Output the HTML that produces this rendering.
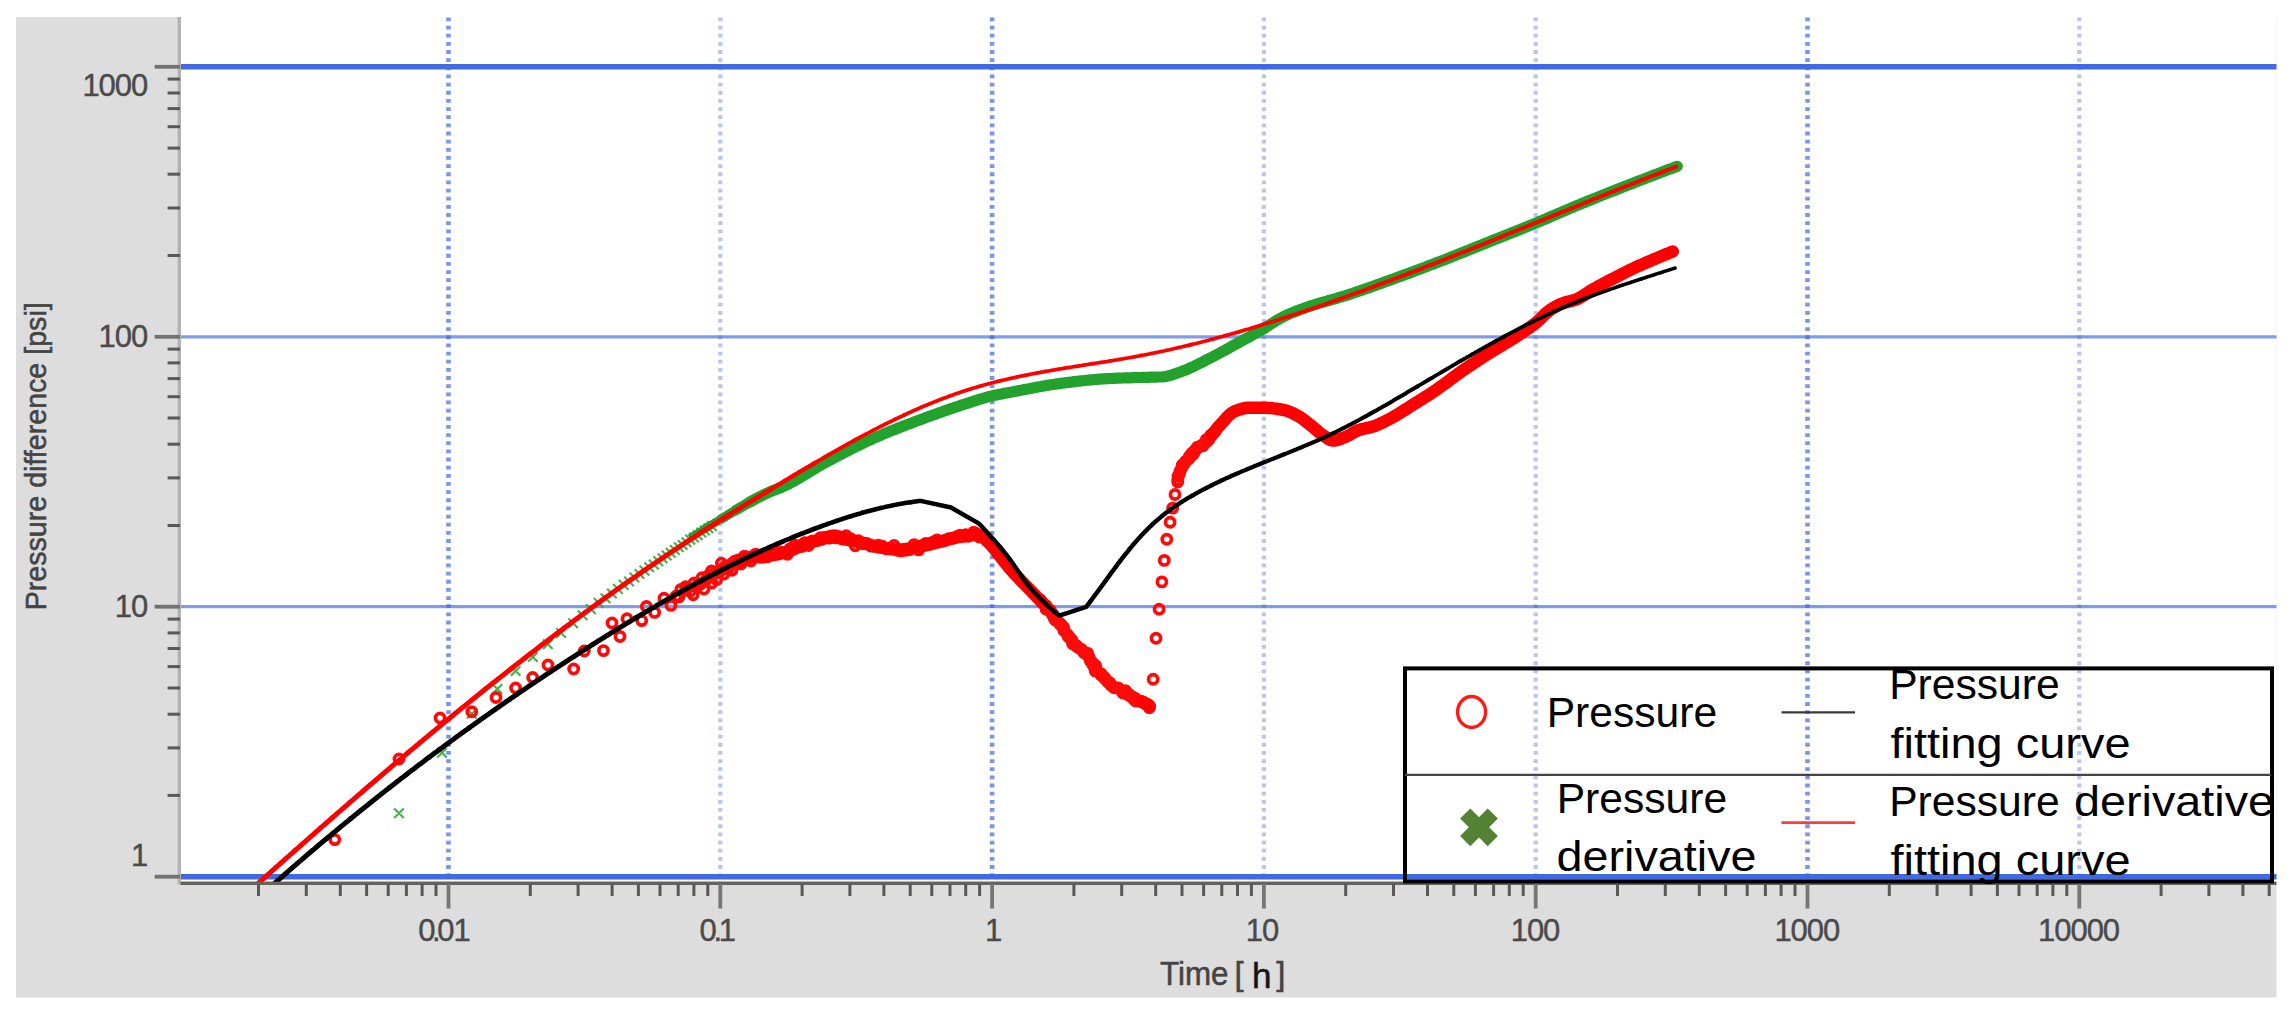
<!DOCTYPE html>
<html><head><meta charset="utf-8"><title>Log-log plot</title>
<style>html,body{margin:0;padding:0;background:#fff;width:2294px;height:1024px;overflow:hidden}</style>
</head><body>
<svg width="2294" height="1024" viewBox="0 0 2294 1024" style="position:absolute;left:0;top:0">
<rect x="0" y="0" width="2294" height="1024" fill="#fff"/>
<g>
<rect x="16" y="17" width="2260.5" height="980.5" fill="#dddddd"/>
<rect x="181" y="17" width="2095.5" height="864.5" fill="#fff"/>
<line x1="448.5" y1="17.5" x2="448.5" y2="875.5" stroke="#4169e1" stroke-width="4.6" stroke-dasharray="3.8 4.35" opacity="0.7"/>
<line x1="720.3" y1="17.5" x2="720.3" y2="875.5" stroke="#4169e1" stroke-width="4.2" stroke-dasharray="3.8 4.35" opacity="0.38"/>
<line x1="992.1" y1="17.5" x2="992.1" y2="875.5" stroke="#4169e1" stroke-width="4.6" stroke-dasharray="3.8 4.35" opacity="0.7"/>
<line x1="1263.9" y1="17.5" x2="1263.9" y2="875.5" stroke="#4169e1" stroke-width="4.2" stroke-dasharray="3.8 4.35" opacity="0.38"/>
<line x1="1535.7" y1="17.5" x2="1535.7" y2="875.5" stroke="#4169e1" stroke-width="4.2" stroke-dasharray="3.8 4.35" opacity="0.38"/>
<line x1="1807.5" y1="17.5" x2="1807.5" y2="875.5" stroke="#4169e1" stroke-width="4.6" stroke-dasharray="3.8 4.35" opacity="0.7"/>
<line x1="2079.3" y1="17.5" x2="2079.3" y2="875.5" stroke="#4169e1" stroke-width="4.2" stroke-dasharray="3.8 4.35" opacity="0.38"/>
<line x1="181" y1="66.8" x2="2276.5" y2="66.8" stroke="#4169e1" stroke-width="5.6" opacity="1"/>
<line x1="181" y1="336.8" x2="2276.5" y2="336.8" stroke="#4169e1" stroke-width="3.3" opacity="0.66"/>
<line x1="181" y1="606.7" x2="2276.5" y2="606.7" stroke="#4169e1" stroke-width="3.3" opacity="0.66"/>
<line x1="181" y1="876.7" x2="2276.5" y2="876.7" stroke="#4169e1" stroke-width="5.6" opacity="1"/>
<clipPath id="pc"><rect x="181" y="17" width="2095.5" height="866.0"/></clipPath>
<g clip-path="url(#pc)">
<path d="M394.2,808.5L403.8,818.1M394.2,818.1L403.8,808.5 M437.2,748.0L446.8,757.6M437.2,757.6L446.8,748.0 M467.0,709.0L476.6,718.6M467.0,718.6L476.6,709.0 M492.6,684.2L502.2,693.8M492.6,693.8L502.2,684.2 M510.8,666.2L520.4,675.8M510.8,675.8L520.4,666.2 M528.0,652.2L537.6,661.8M528.0,661.8L537.6,652.2 M543.0,639.5L552.6,649.1M543.0,649.1L552.6,639.5 M556.3,628.2L565.9,637.8M556.3,637.8L565.9,628.2 M568.3,618.4L577.9,628.0M568.3,628.0L577.9,618.4 M577.8,610.5L587.4,620.1M577.8,620.1L587.4,610.5 M586.1,604.3L595.7,613.9M586.1,613.9L595.7,604.3 M593.8,598.1L603.4,607.7M593.8,607.7L603.4,598.1 M600.7,593.4L610.3,603.0M600.7,603.0L610.3,593.4 M607.1,588.7L616.7,598.3M607.1,598.3L616.7,588.7 M613.1,584.1L622.7,593.7M613.1,593.7L622.7,584.1 M618.8,580.1L628.4,589.7M618.8,589.7L628.4,580.1 M624.3,576.7L633.9,586.3M624.3,586.3L633.9,576.7 M629.6,572.7L639.2,582.3M629.6,582.3L639.2,572.7 M634.7,569.2L644.3,578.8M634.7,578.8L644.3,569.2 M639.7,565.8L649.3,575.4M639.7,575.4L649.3,565.8 M644.4,562.5L654.0,572.1M644.4,572.1L654.0,562.5 M649.0,559.7L658.6,569.3M649.0,569.3L658.6,559.7 M653.4,556.3L663.0,565.9M653.4,565.9L663.0,556.3 M657.7,553.5L667.3,563.1M657.7,563.1L667.3,553.5 M661.9,550.7L671.5,560.3M661.9,560.3L671.5,550.7 M665.9,547.9L675.5,557.5M665.9,557.5L675.5,547.9 M670.0,545.2L679.6,554.8M670.0,554.8L679.6,545.2 M674.0,542.4L683.6,552.0M674.0,552.0L683.6,542.4 M677.9,540.2L687.5,549.8M677.9,549.8L687.5,540.2 M681.7,537.5L691.3,547.1M681.7,547.1L691.3,537.5 M685.5,534.8L695.1,544.4M685.5,544.4L695.1,534.8 M689.2,532.6L698.8,542.2M689.2,542.2L698.8,532.6 M692.9,530.4L702.5,540.0M692.9,540.0L702.5,530.4 M696.5,527.7L706.1,537.3M696.5,537.3L706.1,527.7 M700.1,525.6L709.7,535.2M700.1,535.2L709.7,525.6 M703.6,523.4L713.2,533.0M703.6,533.0L713.2,523.4 M707.1,521.3L716.7,530.9M707.1,530.9L716.7,521.3" stroke="#2fa83a" stroke-width="2.1" fill="none" opacity="0.9"/>
<path d="M689.7,537.9 L691.4,536.9 L693.1,535.8 L694.8,534.7 L696.5,533.7 L698.2,532.6 L699.9,531.6 L701.6,530.5 L703.3,529.5 L705.0,528.5" stroke="#22a12c" stroke-width="7.5" fill="none" stroke-linejoin="round" stroke-linecap="butt"/>
<path d="M704.1,529.0 L705.9,528.0 L707.6,526.9 L709.3,525.9 L711.0,524.9 L712.8,523.9 L714.5,522.9 L716.2,521.9 L717.9,520.9 L719.7,519.9" stroke="#22a12c" stroke-width="8.5" fill="none" stroke-linejoin="round" stroke-linecap="butt"/>
<path d="M719.7,519.9 L721.4,518.8 L723.1,517.8 L724.8,516.8 L726.6,515.7 L728.3,514.7 L730.0,513.7 L731.7,512.6 L733.5,511.6 L735.2,510.6" stroke="#22a12c" stroke-width="9.5" fill="none" stroke-linejoin="round" stroke-linecap="butt"/>
<path d="M734.3,511.1 L736.0,510.1 L737.8,509.0 L739.5,508.0 L741.2,507.0 L743.0,506.0 L744.7,505.0 L746.4,504.0 L748.2,503.0 L749.9,502.0" stroke="#22a12c" stroke-width="10.4" fill="none" stroke-linejoin="round" stroke-linecap="butt"/>
<path d="M749.1,502.5 L750.8,501.5 L752.6,500.5 L754.3,499.6 L756.1,498.6 L757.8,497.7 L759.6,496.8 L761.4,495.9 L763.2,495.0 L765.0,494.2 L766.8,493.3 L768.6,492.5 L770.4,491.7 L772.2,490.9 L774.1,490.1 L775.9,489.5 L777.8,488.8 L779.7,488.1 L781.5,487.3 L783.3,486.5 L785.1,485.7 L786.9,484.8 L788.7,483.9 L790.5,483.0 L792.2,482.0 L794.0,481.1 L795.7,480.1 L797.5,479.1 L799.2,478.1 L800.9,477.1 L802.6,476.0 L804.4,475.0 L806.1,474.0 L807.8,472.9 L809.5,471.9 L811.2,470.8 L813.0,469.8 L814.7,468.8 L816.4,467.7 L818.1,466.7 L819.9,465.7 L821.6,464.7 L823.4,463.7 L825.1,462.8 L826.9,461.8 L828.6,460.9 L830.4,459.9 L832.2,459.0 L833.9,458.1 L835.7,457.1 L837.5,456.2 L839.3,455.3 L841.0,454.3 L842.8,453.4 L844.6,452.5 L846.4,451.6 L848.1,450.7 L849.9,449.7 L851.7,448.8 L853.5,447.9 L855.3,447.0 L857.1,446.1 L858.9,445.3 L860.7,444.4 L862.5,443.5 L864.3,442.6 L866.1,441.8 L867.9,440.9 L869.7,440.1 L871.5,439.3 L873.3,438.5 L875.2,437.7 L877.0,436.9 L878.8,436.1 L880.7,435.3 L882.5,434.5 L884.3,433.7 L886.2,432.9 L888.0,432.2 L889.9,431.4 L891.7,430.7 L893.6,429.9 L895.5,429.2 L897.3,428.5 L899.2,427.7 L901.1,427.0 L902.9,426.3 L904.8,425.6 L906.7,424.8 L908.5,424.1 L910.4,423.4 L912.3,422.7 L914.1,422.0 L916.0,421.3 L917.9,420.6 L919.8,419.9 L921.6,419.2 L923.5,418.5 L925.4,417.8 L927.3,417.1 L929.1,416.4 L931.0,415.8 L932.9,415.1 L934.8,414.4 L936.7,413.7 L938.5,413.0 L940.4,412.4 L942.3,411.7 L944.2,411.0 L946.1,410.4 L948.0,409.7 L949.9,409.1 L951.8,408.4 L953.7,407.8 L955.6,407.1 L957.5,406.5 L959.4,405.9 L961.2,405.2 L963.1,404.6 L965.1,404.0 L967.0,403.4 L968.9,402.8 L970.8,402.2 L972.7,401.5 L974.6,400.9 L976.5,400.3 L978.4,399.7 L980.3,399.1 L982.2,398.6 L984.1,398.0 L986.1,397.4 L988.0,396.9 L989.9,396.4 L991.9,396.0 L993.8,395.5 L995.8,395.1 L997.7,394.7 L999.7,394.3 L1001.6,393.9 L1003.6,393.5 L1005.6,393.1 L1007.5,392.8 L1009.5,392.4 L1011.5,392.0 L1013.4,391.7 L1015.4,391.3 L1017.4,390.9 L1019.3,390.5 L1021.3,390.2 L1023.3,389.8 L1025.2,389.4 L1027.2,389.0 L1029.2,388.7 L1031.1,388.3 L1033.1,387.9 L1035.1,387.5 L1037.0,387.2 L1039.0,386.8 L1041.0,386.5 L1043.0,386.1 L1044.9,385.8 L1046.9,385.4 L1048.9,385.1 L1050.8,384.8 L1052.8,384.5 L1054.8,384.2 L1056.8,383.9 L1058.7,383.6 L1060.7,383.4 L1062.7,383.1 L1064.7,382.9 L1066.7,382.6 L1068.7,382.4 L1070.6,382.1 L1072.6,381.9 L1074.6,381.6 L1076.6,381.4 L1078.6,381.2 L1080.6,380.9 L1082.6,380.7 L1084.6,380.5 L1086.6,380.3 L1088.5,380.1 L1090.5,379.9 L1092.5,379.7 L1094.5,379.5 L1096.5,379.4 L1098.5,379.2 L1100.5,379.1 L1102.5,378.9 L1104.5,378.8 L1106.5,378.7 L1108.5,378.6 L1110.5,378.5 L1112.5,378.4 L1114.5,378.3 L1116.5,378.2 L1118.5,378.2 L1120.5,378.1 L1122.5,378.0 L1124.5,377.9 L1126.5,377.9 L1128.5,377.8 L1130.5,377.8 L1132.5,377.7 L1134.5,377.6 L1136.5,377.6 L1138.5,377.5 L1140.5,377.5 L1142.5,377.4 L1144.5,377.4 L1146.5,377.3 L1148.5,377.3 L1150.5,377.2 L1152.5,377.2 L1154.5,377.2 L1156.5,377.1 L1158.5,377.0 L1160.5,377.0 L1162.5,376.9 L1164.4,376.7 L1166.4,376.4 L1168.3,375.9 L1170.3,375.4 L1172.2,374.8 L1174.1,374.1 L1176.1,373.5 L1177.9,372.8 L1179.8,372.2 L1181.7,371.5 L1183.5,370.8 L1185.4,370.1 L1187.2,369.3 L1189.1,368.5 L1190.9,367.7 L1192.7,366.9 L1194.5,366.0 L1196.3,365.1 L1198.1,364.2 L1199.9,363.3 L1201.7,362.4 L1203.5,361.5 L1205.3,360.5 L1207.1,359.6 L1208.9,358.7 L1210.6,357.8 L1212.4,356.9 L1214.2,355.9 L1216.0,355.0 L1217.7,354.1 L1219.5,353.2 L1221.3,352.2 L1223.0,351.3 L1224.8,350.3 L1226.5,349.3 L1228.3,348.4 L1230.0,347.4 L1231.8,346.4 L1233.5,345.4 L1235.3,344.5 L1237.0,343.5 L1238.8,342.5 L1240.5,341.6 L1242.3,340.6 L1244.1,339.7 L1245.8,338.7 L1247.6,337.8 L1249.3,336.8 L1251.1,335.8 L1252.8,334.9 L1254.6,333.9 L1256.3,332.9 L1258.1,331.9 L1259.8,331.0 L1261.5,330.0 L1263.3,328.9 L1265.0,327.9 L1266.7,326.8 L1268.3,325.7 L1270.0,324.6 L1271.7,323.5 L1273.4,322.5 L1275.1,321.4 L1276.8,320.3 L1278.5,319.3 L1280.3,318.3 L1282.0,317.4 L1283.8,316.5 L1285.6,315.6 L1287.4,314.8 L1289.2,314.0 L1291.0,313.2 L1292.9,312.5 L1294.8,311.7 L1296.6,311.0 L1298.5,310.2 L1300.4,309.5 L1302.3,308.9 L1304.2,308.2 L1306.0,307.5 L1307.9,306.9 L1309.8,306.2 L1311.7,305.6 L1313.6,305.0 L1315.5,304.4 L1317.4,303.8 L1319.4,303.2 L1321.3,302.7 L1323.2,302.1 L1325.1,301.6 L1327.0,301.0 L1329.0,300.5 L1330.9,299.9 L1332.8,299.4 L1334.8,298.8 L1336.7,298.3 L1338.6,297.7 L1340.5,297.2 L1342.4,296.6 L1344.4,296.0 L1346.3,295.4 L1348.2,294.8 L1350.1,294.2 L1352.0,293.5 L1353.9,292.9 L1355.7,292.3 L1357.6,291.6 L1359.5,291.0 L1361.4,290.3 L1363.3,289.7 L1365.2,289.0 L1367.1,288.4 L1369.0,287.7 L1370.9,287.0 L1372.8,286.4 L1374.6,285.7 L1376.5,285.0 L1378.4,284.3 L1380.3,283.7 L1382.2,283.0 L1384.0,282.3 L1385.9,281.6 L1387.8,280.9 L1389.7,280.3 L1391.6,279.6 L1393.4,278.9 L1395.3,278.2 L1397.2,277.5 L1399.1,276.8 L1401.0,276.2 L1402.8,275.5 L1404.7,274.8 L1406.6,274.1 L1408.5,273.4 L1410.3,272.7 L1412.2,272.0 L1414.1,271.3 L1416.0,270.6 L1417.8,269.9 L1419.7,269.2 L1421.6,268.5 L1423.5,267.8 L1425.3,267.1 L1427.2,266.3 L1429.1,265.6 L1430.9,264.9 L1432.8,264.2 L1434.7,263.5 L1436.5,262.8 L1438.4,262.1 L1440.3,261.3 L1442.1,260.6 L1444.0,259.9 L1445.9,259.2 L1447.7,258.4 L1449.6,257.7 L1451.4,257.0 L1453.3,256.2 L1455.2,255.5 L1457.0,254.7 L1458.9,254.0 L1460.7,253.3 L1462.6,252.5 L1464.4,251.8 L1466.3,251.0 L1468.2,250.3 L1470.0,249.5 L1471.9,248.8 L1473.7,248.0 L1475.6,247.3 L1477.4,246.5 L1479.3,245.8 L1481.1,245.1 L1483.0,244.3 L1484.9,243.6 L1486.7,242.8 L1488.6,242.1 L1490.4,241.3 L1492.3,240.6 L1494.1,239.8 L1496.0,239.1 L1497.9,238.4 L1499.7,237.6 L1501.6,236.9 L1503.4,236.1 L1505.3,235.4 L1507.1,234.7 L1509.0,233.9 L1510.9,233.2 L1512.7,232.4 L1514.6,231.7 L1516.4,231.0 L1518.3,230.2 L1520.1,229.5 L1522.0,228.7 L1523.9,228.0 L1525.7,227.2 L1527.6,226.5 L1529.4,225.7 L1531.3,224.9 L1533.1,224.2 L1535.0,223.4 L1536.8,222.7 L1538.7,221.9 L1540.5,221.1 L1542.3,220.3 L1544.2,219.6 L1546.0,218.8 L1547.9,218.0 L1549.7,217.2 L1551.5,216.4 L1553.4,215.6 L1555.2,214.8 L1557.0,214.0 L1558.9,213.3 L1560.7,212.5 L1562.6,211.7 L1564.4,210.9 L1566.2,210.1 L1568.1,209.3 L1569.9,208.5 L1571.8,207.7 L1573.6,207.0 L1575.4,206.2 L1577.3,205.4 L1579.1,204.7 L1581.0,203.9 L1582.8,203.1 L1584.7,202.4 L1586.5,201.6 L1588.4,200.9 L1590.2,200.1 L1592.1,199.4 L1594.0,198.6 L1595.8,197.9 L1597.7,197.1 L1599.5,196.4 L1601.4,195.6 L1603.2,194.9 L1605.1,194.2 L1607.0,193.4 L1608.8,192.7 L1610.7,191.9 L1612.5,191.2 L1614.4,190.5 L1616.3,189.7 L1618.1,189.0 L1620.0,188.3 L1621.8,187.5 L1623.7,186.8 L1625.6,186.1 L1627.4,185.4 L1629.3,184.6 L1631.2,183.9 L1633.0,183.2 L1634.9,182.5 L1636.7,181.7 L1638.6,181.0 L1640.5,180.3 L1642.3,179.6 L1644.2,178.9 L1646.1,178.1 L1647.9,177.4 L1649.8,176.7 L1651.7,176.0 L1653.5,175.3 L1655.4,174.6 L1657.3,173.9 L1659.2,173.1 L1661.0,172.4 L1662.9,171.7 L1664.8,171.0 L1666.6,170.3 L1668.5,169.6 L1670.4,168.9 L1672.2,168.2 L1674.1,167.5 L1676.0,166.8 L1677.3,166.3" stroke="#22a12c" stroke-width="11.2" fill="none" stroke-linejoin="round" stroke-linecap="round"/>
<g fill="none" stroke="#ff0a0a" stroke-width="3.7">
<circle cx="334.8" cy="839.6" r="4.6"/>
<circle cx="399.0" cy="759.0" r="4.6"/>
<circle cx="440.0" cy="718.0" r="4.6"/>
<circle cx="471.8" cy="711.8" r="4.6"/>
<circle cx="496.0" cy="697.5" r="4.6"/>
<circle cx="515.6" cy="688.0" r="4.6"/>
<circle cx="532.7" cy="677.5" r="4.6"/>
<circle cx="548.0" cy="665.0" r="4.6"/>
<circle cx="573.7" cy="669.0" r="4.6"/>
<circle cx="584.3" cy="651.0" r="4.6"/>
<circle cx="603.5" cy="650.6" r="4.6"/>
<circle cx="612.0" cy="623.0" r="4.6"/>
<circle cx="620.0" cy="636.5" r="4.6"/>
<circle cx="627.0" cy="618.7" r="4.6"/>
<circle cx="641.7" cy="620.6" r="4.6"/>
<circle cx="646.4" cy="606.5" r="4.6"/>
<circle cx="654.6" cy="612.4" r="4.6"/>
<circle cx="664.0" cy="598.3" r="4.6"/>
<circle cx="671.0" cy="605.4" r="4.6"/>
<circle cx="679.0" cy="597.0" r="4.6"/>
<circle cx="686.2" cy="590.0" r="4.6"/>
<circle cx="693.2" cy="594.8" r="4.6"/>
<circle cx="700.3" cy="584.3" r="4.6"/>
<circle cx="704.0" cy="589.0" r="4.6"/>
<circle cx="707.3" cy="578.4" r="4.6"/>
<circle cx="712.0" cy="583.0" r="4.6"/>
<circle cx="716.7" cy="579.6" r="4.6"/>
<circle cx="721.4" cy="563.2" r="4.6"/>
<circle cx="724.0" cy="574.0" r="4.6"/>
<circle cx="728.0" cy="569.0" r="4.6"/>
<circle cx="732.0" cy="570.2" r="4.6"/>
<circle cx="735.0" cy="564.0" r="4.6"/>
<circle cx="737.8" cy="560.8" r="4.6"/>
<circle cx="1153.2" cy="679.2" r="4.6"/>
<circle cx="1156.0" cy="638.2" r="4.6"/>
<circle cx="1159.1" cy="609.3" r="4.6"/>
<circle cx="1161.9" cy="581.9" r="4.6"/>
<circle cx="1164.3" cy="560.4" r="4.6"/>
<circle cx="1166.8" cy="539.3" r="4.6"/>
<circle cx="1170.1" cy="522.2" r="4.6"/>
<circle cx="1172.7" cy="508.1" r="4.6"/>
<circle cx="1175.0" cy="494.5" r="4.6"/>
<circle cx="1177.8" cy="481.9" r="4.6"/>
<circle cx="676.0" cy="596.2" r="4.6"/>
<circle cx="680.9" cy="589.5" r="4.6"/>
<circle cx="685.5" cy="586.7" r="4.6"/>
<circle cx="690.2" cy="591.2" r="4.6"/>
<circle cx="694.1" cy="583.0" r="4.6"/>
<circle cx="698.5" cy="583.8" r="4.6"/>
<circle cx="702.0" cy="577.8" r="4.6"/>
<circle cx="705.5" cy="581.1" r="4.6"/>
<circle cx="708.4" cy="575.5" r="4.6"/>
<circle cx="711.5" cy="571.0" r="4.6"/>
<circle cx="714.9" cy="573.0" r="4.6"/>
<circle cx="718.6" cy="572.8" r="4.6"/>
<circle cx="722.6" cy="569.5" r="4.6"/>
<circle cx="724.5" cy="567.0" r="4.6"/>
<circle cx="728.9" cy="567.3" r="4.6"/>
<circle cx="731.2" cy="564.0" r="4.6"/>
<circle cx="734.6" cy="561.2" r="4.6"/>
<circle cx="738.6" cy="559.9" r="4.6"/>
<circle cx="741.0" cy="564.0" r="4.6"/>
<circle cx="743.7" cy="559.1" r="4.6"/>
<circle cx="746.9" cy="558.3" r="4.6"/>
<circle cx="739.3" cy="561.2" r="4.6"/>
<circle cx="744.5" cy="556.1" r="4.6"/>
<circle cx="747.9" cy="558.0" r="4.6"/>
<circle cx="750.9" cy="561.0" r="4.6"/>
<circle cx="755.7" cy="554.1" r="4.6"/>
<circle cx="759.3" cy="557.3" r="4.6"/>
<circle cx="763.1" cy="557.2" r="4.6"/>
<circle cx="767.2" cy="556.9" r="4.6"/>
<circle cx="772.1" cy="553.8" r="4.6"/>
<circle cx="775.3" cy="553.8" r="4.6"/>
<circle cx="779.2" cy="551.6" r="4.6"/>
<circle cx="782.7" cy="552.6" r="4.6"/>
<circle cx="787.4" cy="554.2" r="4.6"/>
<circle cx="789.8" cy="549.0" r="4.6"/>
<circle cx="794.7" cy="545.0" r="4.6"/>
<circle cx="797.6" cy="547.0" r="4.6"/>
<circle cx="802.0" cy="546.4" r="4.6"/>
<circle cx="804.7" cy="542.8" r="4.6"/>
<circle cx="808.6" cy="545.5" r="4.6"/>
<circle cx="812.4" cy="541.0" r="4.6"/>
<circle cx="816.8" cy="540.5" r="4.6"/>
<circle cx="820.4" cy="537.6" r="4.6"/>
<circle cx="824.3" cy="537.5" r="4.6"/>
<circle cx="828.9" cy="538.1" r="4.6"/>
<circle cx="831.9" cy="537.1" r="4.6"/>
<circle cx="835.6" cy="537.9" r="4.6"/>
<circle cx="839.6" cy="538.0" r="4.6"/>
<circle cx="842.6" cy="539.1" r="4.6"/>
<circle cx="846.2" cy="535.7" r="4.6"/>
<circle cx="850.9" cy="538.8" r="4.6"/>
<circle cx="855.2" cy="545.8" r="4.6"/>
<circle cx="858.5" cy="540.8" r="4.6"/>
<circle cx="863.1" cy="543.8" r="4.6"/>
<circle cx="866.7" cy="543.5" r="4.6"/>
<circle cx="871.1" cy="546.1" r="4.6"/>
<circle cx="873.9" cy="546.1" r="4.6"/>
<circle cx="878.4" cy="545.1" r="4.6"/>
<circle cx="882.4" cy="546.2" r="4.6"/>
<circle cx="886.8" cy="548.9" r="4.6"/>
<circle cx="890.3" cy="547.9" r="4.6"/>
<circle cx="894.1" cy="545.5" r="4.6"/>
<circle cx="897.5" cy="550.3" r="4.6"/>
<circle cx="900.9" cy="551.0" r="4.6"/>
<circle cx="905.1" cy="550.4" r="4.6"/>
<circle cx="909.6" cy="549.8" r="4.6"/>
<circle cx="914.1" cy="544.6" r="4.6"/>
<circle cx="918.7" cy="549.9" r="4.6"/>
<circle cx="921.9" cy="545.7" r="4.6"/>
<circle cx="925.7" cy="543.4" r="4.6"/>
<circle cx="930.4" cy="543.3" r="4.6"/>
<circle cx="933.6" cy="541.9" r="4.6"/>
<circle cx="937.1" cy="539.9" r="4.6"/>
<circle cx="942.1" cy="541.1" r="4.6"/>
<circle cx="945.8" cy="540.3" r="4.6"/>
<circle cx="948.7" cy="538.6" r="4.6"/>
<circle cx="952.6" cy="538.3" r="4.6"/>
<circle cx="956.6" cy="536.8" r="4.6"/>
<circle cx="960.0" cy="535.1" r="4.6"/>
<circle cx="965.8" cy="534.8" r="4.6"/>
<circle cx="968.2" cy="536.3" r="4.6"/>
<circle cx="973.7" cy="532.3" r="4.6"/>
<circle cx="976.6" cy="533.7" r="4.6"/>
<circle cx="979.6" cy="537.1" r="4.6"/>
<circle cx="984.3" cy="537.7" r="4.6"/>
<circle cx="986.8" cy="540.9" r="4.6"/>
<circle cx="989.4" cy="542.9" r="4.6"/>
<circle cx="991.6" cy="544.0" r="4.6"/>
<circle cx="995.6" cy="548.5" r="4.6"/>
<circle cx="997.5" cy="552.6" r="4.6"/>
<circle cx="999.5" cy="554.8" r="4.6"/>
<circle cx="1040.5" cy="600.0" r="4.6"/>
<circle cx="1041.9" cy="602.5" r="4.6"/>
<circle cx="1045.2" cy="605.2" r="4.6"/>
<circle cx="1046.5" cy="606.3" r="4.6"/>
<circle cx="1046.2" cy="609.2" r="4.6"/>
<circle cx="1050.3" cy="610.4" r="4.6"/>
<circle cx="1051.9" cy="613.6" r="4.6"/>
<circle cx="1053.4" cy="615.2" r="4.6"/>
<circle cx="1054.1" cy="618.1" r="4.6"/>
<circle cx="1055.2" cy="619.9" r="4.6"/>
<circle cx="1058.6" cy="622.3" r="4.6"/>
<circle cx="1061.0" cy="624.5" r="4.6"/>
<circle cx="1060.0" cy="624.1" r="4.6"/>
<circle cx="1063.5" cy="627.2" r="4.6"/>
<circle cx="1063.9" cy="630.5" r="4.6"/>
<circle cx="1064.1" cy="630.3" r="4.6"/>
<circle cx="1067.5" cy="634.8" r="4.6"/>
<circle cx="1068.2" cy="636.4" r="4.6"/>
<circle cx="1069.5" cy="637.4" r="4.6"/>
<circle cx="1072.0" cy="640.2" r="4.6"/>
<circle cx="1072.6" cy="643.7" r="4.6"/>
<circle cx="1075.5" cy="645.1" r="4.6"/>
<circle cx="1076.8" cy="646.2" r="4.6"/>
<circle cx="1079.0" cy="648.0" r="4.6"/>
<circle cx="1081.6" cy="649.5" r="4.6"/>
<circle cx="1083.9" cy="652.6" r="4.6"/>
<circle cx="1087.5" cy="653.1" r="4.6"/>
<circle cx="1087.9" cy="655.7" r="4.6"/>
<circle cx="1089.0" cy="656.8" r="4.6"/>
<circle cx="1090.4" cy="661.1" r="4.6"/>
<circle cx="1091.9" cy="662.2" r="4.6"/>
<circle cx="1093.4" cy="665.7" r="4.6"/>
<circle cx="1095.3" cy="665.2" r="4.6"/>
<circle cx="1095.8" cy="667.1" r="4.6"/>
<circle cx="1095.2" cy="670.9" r="4.6"/>
<circle cx="1101.1" cy="673.7" r="4.6"/>
<circle cx="1100.9" cy="675.0" r="4.6"/>
<circle cx="1104.3" cy="677.4" r="4.6"/>
<circle cx="1105.5" cy="679.3" r="4.6"/>
<circle cx="1107.8" cy="682.0" r="4.6"/>
<circle cx="1109.8" cy="682.8" r="4.6"/>
<circle cx="1110.8" cy="684.9" r="4.6"/>
<circle cx="1113.5" cy="687.3" r="4.6"/>
<circle cx="1115.4" cy="687.9" r="4.6"/>
<circle cx="1118.2" cy="687.9" r="4.6"/>
<circle cx="1122.3" cy="692.0" r="4.6"/>
<circle cx="1122.9" cy="692.9" r="4.6"/>
<circle cx="1125.5" cy="690.8" r="4.6"/>
<circle cx="1127.1" cy="694.1" r="4.6"/>
<circle cx="1128.7" cy="694.1" r="4.6"/>
<circle cx="1130.2" cy="695.9" r="4.6"/>
<circle cx="1133.2" cy="697.3" r="4.6"/>
<circle cx="1133.9" cy="699.3" r="4.6"/>
<circle cx="1135.3" cy="698.4" r="4.6"/>
<circle cx="1135.9" cy="701.1" r="4.6"/>
<circle cx="1140.2" cy="701.3" r="4.6"/>
<circle cx="1141.8" cy="701.5" r="4.6"/>
<circle cx="1143.1" cy="702.1" r="4.6"/>
<circle cx="1144.5" cy="703.3" r="4.6"/>
<circle cx="1147.8" cy="704.7" r="4.6"/>
<circle cx="1148.1" cy="704.7" r="4.6"/>
<circle cx="1149.3" cy="707.8" r="4.6"/>
</g>
<path d="M740.0,561.0 L741.8,560.1 L743.7,559.2 L745.5,558.4 L747.4,557.8 L749.3,557.3 L751.3,557.0 L753.2,556.8 L755.2,556.5 L757.2,556.3 L759.2,556.2 L761.2,556.0 L763.2,555.8 L765.2,555.7 L767.2,555.5 L769.2,555.4 L771.2,555.2 L773.2,555.0 L775.2,554.7 L777.1,554.4 L779.1,554.0 L781.1,553.5 L783.0,553.0 L784.9,552.5 L786.8,551.9 L788.7,551.3 L790.6,550.6 L792.5,549.8 L794.3,549.0 L796.1,548.1 L797.9,547.2 L799.6,546.1 L801.3,545.0 L803.1,544.1 L804.9,543.5 L806.8,542.9 L808.7,542.5 L810.7,542.0 L812.7,541.6 L814.6,541.2 L816.6,540.8 L818.6,540.3 L820.5,539.8 L822.4,539.1 L824.3,538.4 L826.2,537.6 L828.2,536.8 L830.1,536.2 L832.0,535.8 L833.9,535.6 L835.8,535.8 L837.7,536.2 L839.6,536.8 L841.5,537.6 L843.4,538.4 L845.3,539.2 L847.2,539.8 L849.2,540.3 L851.1,540.6 L853.1,541.0 L855.1,541.3 L857.0,541.7 L859.0,542.0 L861.0,542.4 L862.9,542.8 L864.9,543.3 L866.8,543.9 L868.7,544.5 L870.6,545.1 L872.6,545.6 L874.5,546.2 L876.4,546.7 L878.3,547.2 L880.3,547.5 L882.3,547.9 L884.2,548.2 L886.2,548.6 L888.2,548.9 L890.2,549.1 L892.2,549.3 L894.2,549.5 L896.2,549.6 L898.2,549.6 L900.2,549.5 L902.1,549.4 L904.1,549.1 L906.1,548.9 L908.1,548.6 L910.1,548.3 L912.1,548.0 L914.1,547.6 L916.0,547.3 L918.0,547.0 L920.0,546.6 L921.9,546.2 L923.9,545.8 L925.8,545.3 L927.8,544.9 L929.7,544.4 L931.7,543.9 L933.6,543.5 L935.6,543.0 L937.5,542.5 L939.4,542.0 L941.4,541.4 L943.3,540.9 L945.2,540.3 L947.2,539.8 L949.1,539.2 L951.0,538.7 L953.0,538.2 L954.9,537.8 L956.9,537.4 L958.8,537.0 L960.8,536.7 L962.8,536.5 L964.8,536.2 L966.8,535.9 L968.8,535.6 L970.8,535.4 L972.8,535.2 L974.8,535.1 L976.7,535.0 L978.7,535.1 L980.6,535.7 L982.5,536.5 L984.3,537.6 L985.8,538.6 L987.2,540.0 L988.5,541.5 L989.8,543.2 L991.0,544.9 L992.3,546.4 L993.5,548.0 L994.8,549.5 L996.0,551.1 L997.3,552.7 L998.5,554.2 L999.7,555.8 L1001.0,557.4 L1002.2,559.0 L1003.4,560.6 L1004.7,562.1 L1005.9,563.7 L1007.2,565.3 L1008.4,566.8 L1009.7,568.3 L1011.0,569.8 L1012.4,571.3 L1013.7,572.8 L1015.0,574.3 L1016.4,575.7 L1017.8,577.2 L1019.2,578.6 L1020.5,580.1 L1021.9,581.5 L1023.3,583.0 L1024.7,584.4 L1026.1,585.8 L1027.5,587.3 L1028.9,588.7 L1030.3,590.1 L1031.7,591.6 L1033.1,593.0 L1034.4,594.5 L1035.8,595.9 L1037.2,597.4 L1038.6,598.8 L1040.0,600.3 L1041.4,601.7 L1042.7,603.2 L1044.1,604.6" stroke="#ff0000" stroke-width="12.5" fill="none" stroke-linejoin="round" stroke-linecap="round"/>
<path d="M1143.0,702.3 L1144.7,703.2 L1146.4,704.2 L1148.2,705.3 L1149.9,706.3" stroke="#ff0000" stroke-width="12.5" fill="none" stroke-linejoin="round" stroke-linecap="round"/>
<g fill="none" stroke="#ff0a0a" stroke-width="3.7">
<circle cx="1177.8" cy="480.0" r="4.6"/>
<circle cx="1178.0" cy="476.3" r="4.6"/>
<circle cx="1179.1" cy="474.8" r="4.6"/>
<circle cx="1180.0" cy="471.3" r="4.6"/>
<circle cx="1181.7" cy="467.9" r="4.6"/>
<circle cx="1182.3" cy="465.1" r="4.6"/>
<circle cx="1183.9" cy="464.2" r="4.6"/>
<circle cx="1185.7" cy="461.4" r="4.6"/>
<circle cx="1189.1" cy="458.4" r="4.6"/>
<circle cx="1189.5" cy="456.4" r="4.6"/>
<circle cx="1191.8" cy="453.4" r="4.6"/>
<circle cx="1193.5" cy="454.0" r="4.6"/>
<circle cx="1194.4" cy="451.1" r="4.6"/>
<circle cx="1196.1" cy="449.4" r="4.6"/>
<circle cx="1197.5" cy="447.1" r="4.6"/>
<circle cx="1200.8" cy="446.0" r="4.6"/>
<circle cx="1203.0" cy="445.7" r="4.6"/>
<circle cx="1203.9" cy="443.7" r="4.6"/>
<circle cx="1206.6" cy="441.8" r="4.6"/>
<circle cx="1206.3" cy="439.6" r="4.6"/>
<circle cx="1208.9" cy="439.5" r="4.6"/>
<circle cx="1210.8" cy="436.3" r="4.6"/>
<circle cx="1210.9" cy="435.1" r="4.6"/>
<circle cx="1213.6" cy="433.0" r="4.6"/>
<circle cx="1214.8" cy="431.8" r="4.6"/>
</g>
<path d="M1212.1,434.7 L1213.4,433.2 L1214.6,431.6 L1215.9,430.0 L1217.1,428.4 L1218.4,426.9 L1219.7,425.4 L1221.1,423.9 L1222.4,422.4 L1223.8,420.9 L1225.2,419.3 L1226.6,417.7 L1228.0,416.2 L1229.5,414.8 L1231.0,413.6 L1232.6,412.4 L1234.2,411.5 L1235.9,410.8 L1237.8,410.1 L1239.7,409.5 L1241.7,408.9 L1243.7,408.4 L1245.7,408.0 L1247.7,407.8 L1249.7,407.8 L1251.7,407.8 L1253.7,407.8 L1255.7,407.8 L1257.7,407.8 L1259.7,407.8 L1261.7,407.8 L1263.7,407.8 L1265.7,407.8 L1267.7,407.9 L1269.7,408.0 L1271.7,408.1 L1273.7,408.4 L1275.7,408.6 L1277.7,409.0 L1279.7,409.3 L1281.6,409.6 L1283.6,410.0 L1285.5,410.4 L1287.4,411.0 L1289.3,411.7 L1291.2,412.5 L1293.0,413.3 L1294.8,414.3 L1296.6,415.2 L1298.3,416.1 L1300.0,417.1 L1301.7,418.2 L1303.3,419.4 L1304.9,420.6 L1306.5,421.9 L1308.0,423.1 L1309.6,424.4 L1311.2,425.7 L1312.7,426.9 L1314.3,428.2 L1315.8,429.5 L1317.3,430.8 L1318.9,432.2 L1320.4,433.4 L1322.0,434.6 L1323.6,435.7 L1325.3,436.8 L1327.1,438.0 L1328.9,439.2 L1330.7,440.1 L1332.5,440.6 L1334.4,440.5 L1336.3,440.2 L1338.2,439.7 L1340.2,439.0 L1342.1,438.2 L1344.0,437.5 L1345.9,436.7 L1347.7,435.9 L1349.5,435.0 L1351.2,433.9 L1353.0,432.9 L1354.7,431.9 L1356.5,431.0 L1358.3,430.2 L1360.2,429.6 L1362.1,429.1 L1364.1,428.7 L1366.0,428.2 L1368.0,427.8 L1370.0,427.4 L1371.9,426.9 L1373.8,426.3 L1375.7,425.6 L1377.5,424.9 L1379.3,424.1 L1381.2,423.2 L1383.0,422.3 L1384.8,421.4 L1386.6,420.5 L1388.4,419.6 L1390.1,418.7 L1391.9,417.7 L1393.6,416.8 L1395.3,415.8 L1397.1,414.8 L1398.8,413.7 L1400.5,412.7 L1402.2,411.6 L1403.9,410.5 L1405.6,409.5 L1407.3,408.4 L1408.9,407.3 L1410.6,406.2 L1412.3,405.2 L1414.0,404.1 L1415.7,403.0 L1417.4,402.0 L1419.1,400.9 L1420.8,399.9 L1422.5,398.8 L1424.2,397.7 L1425.9,396.6 L1427.6,395.6 L1429.3,394.5 L1430.9,393.4 L1432.6,392.3 L1434.3,391.2 L1435.9,390.1 L1437.6,388.9 L1439.2,387.8 L1440.8,386.6 L1442.4,385.4 L1444.0,384.3 L1445.7,383.1 L1447.3,381.9 L1448.9,380.7 L1450.5,379.5 L1452.1,378.3 L1453.7,377.1 L1455.3,375.9 L1456.9,374.7 L1458.5,373.5 L1460.2,372.4 L1461.8,371.2 L1463.4,370.1 L1465.1,369.0 L1466.7,367.9 L1468.4,366.7 L1470.1,365.6 L1471.7,364.5 L1473.4,363.4 L1475.0,362.3 L1476.7,361.2 L1478.4,360.1 L1480.1,359.0 L1481.7,357.9 L1483.4,356.8 L1485.1,355.7 L1486.8,354.6 L1488.5,353.6 L1490.2,352.5 L1491.9,351.4 L1493.6,350.4 L1495.3,349.4 L1497.0,348.3 L1498.7,347.3 L1500.4,346.3 L1502.2,345.3 L1503.9,344.2 L1505.6,343.2 L1507.3,342.2 L1509.0,341.1 L1510.7,340.1 L1512.4,339.0 L1514.1,338.0 L1515.8,336.9 L1517.4,335.8 L1519.1,334.7 L1520.8,333.6 L1522.5,332.5 L1524.1,331.3 L1525.8,330.2 L1527.4,329.1 L1529.1,327.9 L1530.7,326.8 L1532.3,325.6 L1533.9,324.4 L1535.5,323.1 L1537.0,321.9 L1538.5,320.5 L1540.0,319.2 L1541.4,317.7 L1542.8,316.3 L1544.3,314.9 L1545.7,313.5 L1547.2,312.2 L1548.8,311.0 L1550.4,309.8 L1552.0,308.8 L1553.7,307.7 L1555.5,306.7 L1557.3,305.8 L1559.1,304.8 L1560.9,304.0 L1562.8,303.3 L1564.6,302.6 L1566.5,302.0 L1568.5,301.6 L1570.5,301.1 L1572.4,300.7 L1574.4,300.1 L1576.2,299.5 L1578.0,298.7 L1579.7,297.8 L1581.5,296.8 L1583.2,295.7 L1584.9,294.6 L1586.6,293.5 L1588.2,292.4 L1589.9,291.2 L1591.6,290.2 L1593.4,289.1 L1595.1,288.2 L1596.9,287.2 L1598.6,286.2 L1600.4,285.3 L1602.1,284.3 L1603.9,283.4 L1605.7,282.5 L1607.5,281.5 L1609.2,280.6 L1611.0,279.7 L1612.8,278.8 L1614.6,277.9 L1616.3,277.0 L1618.1,276.0 L1619.9,275.1 L1621.7,274.2 L1623.5,273.3 L1625.2,272.4 L1627.0,271.5 L1628.8,270.6 L1630.6,269.7 L1632.4,268.9 L1634.2,268.0 L1636.0,267.1 L1637.8,266.3 L1639.7,265.5 L1641.5,264.7 L1643.3,263.9 L1645.2,263.1 L1647.0,262.3 L1648.8,261.5 L1650.7,260.7 L1652.5,259.9 L1654.4,259.1 L1656.2,258.4 L1658.0,257.6 L1659.9,256.8 L1661.7,256.0 L1663.6,255.3 L1665.4,254.5 L1667.3,253.7 L1669.1,253.0 L1671.0,252.2 L1672.8,251.5" stroke="#ff0000" stroke-width="12.5" fill="none" stroke-linejoin="round" stroke-linecap="round"/>
<path d="M273.8,884.0 L275.3,882.7 L276.8,881.3 L278.4,880.0 L279.9,878.6 L281.4,877.3 L282.9,876.0 L284.4,874.6 L286.0,873.3 L287.5,872.0 L289.0,870.6 L290.5,869.3 L292.1,868.0 L293.6,866.7 L295.1,865.4 L296.6,864.0 L298.2,862.7 L299.7,861.4 L301.2,860.1 L302.7,858.8 L304.3,857.5 L305.8,856.1 L307.3,854.8 L308.9,853.5 L310.4,852.2 L311.9,850.9" stroke="#000" stroke-width="5.00" fill="none" stroke-linejoin="round" stroke-linecap="round"/>
<path d="M311.9,850.9 L313.5,849.6 L315.0,848.3 L316.5,847.0 L318.1,845.7 L319.6,844.4 L321.1,843.1 L322.7,841.8 L324.2,840.5 L325.8,839.3 L327.3,838.0 L328.8,836.7 L330.4,835.4 L331.9,834.1 L333.5,832.8 L335.0,831.6 L336.5,830.3 L338.1,829.0 L339.6,827.7 L341.2,826.4 L342.7,825.2 L344.3,823.9 L345.8,822.6 L347.4,821.4 L348.9,820.1 L350.5,818.8" stroke="#000" stroke-width="5.00" fill="none" stroke-linejoin="round" stroke-linecap="round"/>
<path d="M350.5,818.8 L352.0,817.6 L353.6,816.3 L355.1,815.0 L356.7,813.8 L358.2,812.5 L359.8,811.3 L361.3,810.0 L362.9,808.8 L364.4,807.5 L366.0,806.3 L367.6,805.0 L369.1,803.8 L370.7,802.5 L372.2,801.3 L373.8,800.0 L375.4,798.8 L376.9,797.5 L378.5,796.3 L380.0,795.1 L381.6,793.8 L383.2,792.6 L384.7,791.4 L386.3,790.1 L387.9,788.9 L389.4,787.7" stroke="#000" stroke-width="5.00" fill="none" stroke-linejoin="round" stroke-linecap="round"/>
<path d="M389.4,787.7 L391.0,786.4 L392.6,785.2 L394.2,784.0 L395.7,782.8 L397.3,781.5 L398.9,780.3 L400.4,779.1 L402.0,777.9 L403.6,776.7 L405.2,775.5 L406.8,774.2 L408.3,773.0 L409.9,771.8 L411.5,770.6 L413.1,769.4 L414.7,768.2 L416.2,767.0 L417.8,765.8 L419.4,764.6 L421.0,763.4 L422.6,762.2 L424.2,761.0 L425.7,759.8 L427.3,758.6 L428.9,757.4" stroke="#000" stroke-width="5.00" fill="none" stroke-linejoin="round" stroke-linecap="round"/>
<path d="M428.9,757.4 L430.5,756.2 L432.1,755.0 L433.7,753.8 L435.3,752.6 L436.9,751.5 L438.5,750.3 L440.1,749.1 L441.7,747.9 L443.3,746.7 L444.9,745.5 L446.5,744.4 L448.1,743.2 L449.7,742.0 L451.3,740.8 L452.9,739.7 L454.5,738.5 L456.1,737.3 L457.7,736.1 L459.3,735.0 L460.9,733.8 L462.5,732.6 L464.1,731.5 L465.7,730.3 L467.3,729.2 L469.0,728.0" stroke="#000" stroke-width="5.00" fill="none" stroke-linejoin="round" stroke-linecap="round"/>
<path d="M469.0,728.0 L470.6,726.8 L472.2,725.7 L473.8,724.5 L475.4,723.4 L477.0,722.2 L478.6,721.1 L480.3,719.9 L481.9,718.8 L483.5,717.6 L485.1,716.5 L486.8,715.3 L488.4,714.2 L490.0,713.0 L491.6,711.9 L493.3,710.7 L494.9,709.6 L496.5,708.5 L498.1,707.3 L499.8,706.2 L501.4,705.0 L503.0,703.9 L504.7,702.8 L506.3,701.6 L507.9,700.5 L509.6,699.4" stroke="#000" stroke-width="5.00" fill="none" stroke-linejoin="round" stroke-linecap="round"/>
<path d="M509.6,699.4 L511.2,698.3 L512.9,697.1 L514.5,696.0 L516.1,694.9 L517.8,693.8 L519.4,692.6 L521.1,691.5 L522.7,690.4 L524.4,689.3 L526.0,688.2 L527.7,687.0 L529.3,685.9 L531.0,684.8 L532.6,683.7 L534.3,682.6 L535.9,681.5 L537.6,680.4 L539.2,679.3 L540.9,678.2 L542.5,677.1 L544.2,676.0 L545.9,674.8 L547.5,673.7 L549.2,672.6 L550.9,671.5" stroke="#000" stroke-width="5.00" fill="none" stroke-linejoin="round" stroke-linecap="round"/>
<path d="M550.9,671.5 L552.5,670.4 L554.2,669.3 L555.9,668.3 L557.5,667.2 L559.2,666.1 L560.9,665.0 L562.5,663.9 L564.2,662.8 L565.9,661.7 L567.6,660.6 L569.2,659.5 L570.9,658.4 L572.6,657.4 L574.3,656.3 L576.0,655.2 L577.6,654.1 L579.3,653.0 L581.0,651.9 L582.7,650.9 L584.4,649.8 L586.1,648.7 L587.8,647.6 L589.4,646.6 L591.1,645.5 L592.8,644.4" stroke="#000" stroke-width="5.00" fill="none" stroke-linejoin="round" stroke-linecap="round"/>
<path d="M592.8,644.4 L594.5,643.4 L596.2,642.3 L597.9,641.2 L599.6,640.1 L601.3,639.1 L603.0,638.0 L604.7,637.0 L606.4,635.9 L608.1,634.8 L609.8,633.8 L611.5,632.7 L613.3,631.7 L615.0,630.6 L616.7,629.5 L618.4,628.5 L620.1,627.4 L621.8,626.4 L623.5,625.3 L625.2,624.3 L627.0,623.2 L628.7,622.2 L630.4,621.2 L632.1,620.1 L633.8,619.1 L635.6,618.0" stroke="#000" stroke-width="5.00" fill="none" stroke-linejoin="round" stroke-linecap="round"/>
<path d="M635.6,618.0 L637.3,617.0 L639.0,616.0 L640.7,614.9 L642.5,613.9 L644.2,612.9 L645.9,611.9 L647.7,610.8 L649.4,609.8 L651.1,608.8 L652.9,607.8 L654.6,606.8 L656.4,605.7 L658.1,604.7 L659.8,603.7 L661.6,602.7 L663.3,601.7 L665.1,600.7 L666.8,599.7 L668.6,598.7 L670.3,597.7 L672.1,596.7 L673.8,595.7 L675.6,594.8 L677.3,593.8 L679.1,592.8" stroke="#000" stroke-width="5.00" fill="none" stroke-linejoin="round" stroke-linecap="round"/>
<path d="M679.1,592.8 L680.9,591.8 L682.6,590.8 L684.4,589.8 L686.2,588.9 L687.9,587.9 L689.7,586.9 L691.4,586.0 L693.2,585.0 L695.0,584.1 L696.8,583.1 L698.5,582.1 L700.3,581.2 L702.1,580.2 L703.9,579.3 L705.6,578.4 L707.4,577.4 L709.2,576.5 L711.0,575.6 L712.8,574.6 L714.5,573.7 L716.3,572.8 L718.1,571.9 L719.9,570.9 L721.7,570.0 L723.5,569.1" stroke="#000" stroke-width="5.00" fill="none" stroke-linejoin="round" stroke-linecap="round"/>
<path d="M723.5,569.1 L725.3,568.2 L727.1,567.3 L728.9,566.4 L730.7,565.5 L732.5,564.6 L734.3,563.7 L736.1,562.9 L737.9,562.0 L739.7,561.1 L741.5,560.2 L743.3,559.3 L745.1,558.5 L746.9,557.6 L748.8,556.8 L750.6,555.9 L752.4,555.1 L754.2,554.2 L756.0,553.4 L757.8,552.5 L759.7,551.7 L761.5,550.8 L763.3,550.0 L765.1,549.2 L767.0,548.4 L768.8,547.6" stroke="#000" stroke-width="4.88" fill="none" stroke-linejoin="round" stroke-linecap="round"/>
<path d="M768.8,547.6 L770.6,546.7 L772.5,545.9 L774.3,545.1 L776.1,544.3 L778.0,543.5 L779.8,542.8 L781.7,542.0 L783.5,541.2 L785.3,540.4 L787.2,539.6 L789.0,538.9 L790.9,538.1 L792.7,537.3 L794.6,536.6 L796.4,535.8 L798.3,535.1 L800.1,534.3 L802.0,533.6 L803.9,532.9 L805.7,532.1 L807.6,531.4 L809.5,530.7 L811.3,530.0 L813.2,529.3 L815.1,528.6" stroke="#000" stroke-width="4.77" fill="none" stroke-linejoin="round" stroke-linecap="round"/>
<path d="M815.1,528.6 L816.9,527.9 L818.8,527.2 L820.7,526.5 L822.6,525.8 L824.4,525.1 L826.3,524.5 L828.2,523.8 L830.1,523.1 L832.0,522.5 L833.8,521.8 L835.7,521.2 L837.6,520.5 L839.5,519.9 L841.4,519.3 L843.3,518.6 L845.2,518.0 L847.1,517.4 L849.0,516.8 L850.9,516.2 L852.8,515.6 L854.7,515.1 L856.6,514.5 L858.5,513.9 L860.4,513.4 L862.3,512.8" stroke="#000" stroke-width="4.65" fill="none" stroke-linejoin="round" stroke-linecap="round"/>
<path d="M862.3,512.8 L864.2,512.3 L866.1,511.7 L868.1,511.2 L870.0,510.7 L871.9,510.2 L873.8,509.7 L875.7,509.2 L877.7,508.7 L879.6,508.3 L881.5,507.8 L883.5,507.4 L885.4,506.9 L887.3,506.5 L889.3,506.1 L891.2,505.7 L893.1,505.3 L895.1,504.9 L897.0,504.5 L899.0,504.1 L900.9,503.8 L902.8,503.4 L904.8,503.1 L906.7,502.8 L908.7,502.5 L910.6,502.2" stroke="#000" stroke-width="4.53" fill="none" stroke-linejoin="round" stroke-linecap="round"/>
<path d="M910.6,502.2 L912.6,501.9 L914.6,501.6 L916.5,501.4 L918.5,501.1 L920.4,500.9 L920.6,500.9 L951.0,507.5 L978.7,523.4 L978.7,523.4 L980.1,524.8 L981.5,526.3 L982.9,527.8 L984.2,529.2 L985.6,530.7 L987.0,532.2 L988.3,533.6 L989.6,535.1 L991.0,536.6 L992.3,538.1 L993.6,539.6 L995.0,541.1 L996.3,542.6 L997.6,544.1 L998.9,545.7 L1000.2,547.2" stroke="#000" stroke-width="4.50" fill="none" stroke-linejoin="round" stroke-linecap="round"/>
<path d="M1000.2,547.2 L1001.4,548.7 L1002.7,550.2 L1004.0,551.8 L1005.2,553.3 L1006.5,554.9 L1007.7,556.5 L1008.9,558.1 L1010.1,559.7 L1011.3,561.3 L1012.4,563.0 L1013.6,564.6 L1014.7,566.3 L1015.9,567.9 L1017.0,569.6 L1018.1,571.2 L1019.3,572.9 L1020.4,574.6 L1021.5,576.2 L1022.7,577.8 L1023.9,579.5 L1025.0,581.1 L1026.2,582.7 L1027.5,584.2 L1028.7,585.8 L1030.0,587.3" stroke="#000" stroke-width="4.50" fill="none" stroke-linejoin="round" stroke-linecap="round"/>
<path d="M1030.0,587.3 L1031.2,588.8 L1032.6,590.3 L1033.9,591.8 L1035.2,593.2 L1036.6,594.7 L1038.0,596.1 L1039.4,597.6 L1040.8,599.0 L1042.2,600.4 L1043.6,601.8 L1045.1,603.2 L1046.5,604.5 L1048.0,605.9 L1049.5,607.2 L1051.0,608.6 L1052.5,609.9 L1054.0,611.2 L1055.6,612.5 L1057.1,613.8 L1058.7,615.1 L1059.3,615.6 L1086.2,606.8 L1087.5,605.1 L1088.8,603.5 L1090.0,601.8" stroke="#000" stroke-width="4.50" fill="none" stroke-linejoin="round" stroke-linecap="round"/>
<path d="M1090.0,601.8 L1091.3,600.1 L1092.5,598.5 L1093.8,596.8 L1095.0,595.1 L1096.2,593.5 L1097.5,591.8 L1098.7,590.2 L1099.9,588.5 L1101.1,586.9 L1102.3,585.2 L1103.5,583.6 L1104.7,581.9 L1105.9,580.3 L1107.1,578.7 L1108.3,577.0 L1109.4,575.4 L1110.6,573.8 L1111.8,572.2 L1113.0,570.6 L1114.2,569.0 L1115.4,567.4 L1116.6,565.8 L1117.7,564.2 L1118.9,562.6 L1120.1,561.1" stroke="#000" stroke-width="4.49" fill="none" stroke-linejoin="round" stroke-linecap="round"/>
<path d="M1120.1,561.1 L1121.3,559.5 L1122.5,557.9 L1123.7,556.4 L1124.9,554.8 L1126.2,553.3 L1127.4,551.8 L1128.6,550.3 L1129.8,548.7 L1131.1,547.2 L1132.3,545.8 L1133.6,544.3 L1134.9,542.8 L1136.1,541.3 L1137.4,539.9 L1138.7,538.4 L1140.0,537.0 L1141.3,535.6 L1142.6,534.1 L1144.0,532.7 L1145.3,531.3 L1146.7,530.0 L1148.1,528.6 L1149.5,527.2 L1150.9,525.9 L1152.3,524.5" stroke="#000" stroke-width="4.44" fill="none" stroke-linejoin="round" stroke-linecap="round"/>
<path d="M1152.3,524.5 L1153.7,523.2 L1155.1,521.9 L1156.6,520.6 L1158.1,519.3 L1159.6,518.1 L1161.1,516.8 L1162.6,515.5 L1164.2,514.3 L1165.7,513.1 L1167.3,511.9 L1168.9,510.7 L1170.5,509.5 L1172.2,508.4 L1173.8,507.2 L1175.5,506.1 L1177.1,504.9 L1178.8,503.8 L1180.5,502.7 L1182.2,501.6 L1184.0,500.5 L1185.7,499.5 L1187.4,498.4 L1189.2,497.4 L1191.0,496.3 L1192.7,495.3" stroke="#000" stroke-width="4.38" fill="none" stroke-linejoin="round" stroke-linecap="round"/>
<path d="M1192.7,495.3 L1194.5,494.3 L1196.3,493.3 L1198.1,492.3 L1199.9,491.3 L1201.7,490.4 L1203.5,489.4 L1205.4,488.5 L1207.2,487.5 L1209.0,486.6 L1210.9,485.7 L1212.7,484.8 L1214.5,483.9 L1216.4,483.0 L1218.2,482.1 L1220.1,481.2 L1221.9,480.3 L1223.8,479.5 L1225.6,478.6 L1227.5,477.8 L1229.3,477.0 L1231.1,476.1 L1233.0,475.3 L1234.8,474.5 L1236.7,473.7 L1238.5,472.9" stroke="#000" stroke-width="4.31" fill="none" stroke-linejoin="round" stroke-linecap="round"/>
<path d="M1238.5,472.9 L1240.4,472.1 L1242.2,471.3 L1244.0,470.6 L1245.9,469.8 L1247.7,469.0 L1249.5,468.3 L1251.4,467.5 L1253.2,466.8 L1255.0,466.0 L1256.8,465.3 L1258.7,464.5 L1260.5,463.8 L1262.3,463.0 L1264.2,462.3 L1266.0,461.6 L1267.8,460.8 L1269.6,460.1 L1271.4,459.4 L1273.3,458.7 L1275.1,457.9 L1276.9,457.2 L1278.7,456.5 L1280.5,455.8 L1282.3,455.0 L1284.1,454.3" stroke="#000" stroke-width="4.23" fill="none" stroke-linejoin="round" stroke-linecap="round"/>
<path d="M1284.1,454.3 L1286.0,453.6 L1287.8,452.9 L1289.6,452.1 L1291.4,451.4 L1293.2,450.7 L1295.0,449.9 L1296.8,449.2 L1298.6,448.4 L1300.4,447.7 L1302.2,447.0 L1304.0,446.2 L1305.8,445.4 L1307.6,444.7 L1309.4,443.9 L1311.2,443.2 L1313.0,442.4 L1314.8,441.6 L1316.6,440.8 L1318.4,440.0 L1320.2,439.2 L1322.0,438.4 L1323.8,437.6 L1325.6,436.8 L1327.4,435.9 L1329.1,435.1" stroke="#000" stroke-width="4.16" fill="none" stroke-linejoin="round" stroke-linecap="round"/>
<path d="M1329.1,435.1 L1330.9,434.3 L1332.7,433.4 L1334.5,432.6 L1336.3,431.7 L1338.1,430.8 L1339.9,429.9 L1341.6,429.0 L1343.4,428.1 L1345.2,427.2 L1347.0,426.3 L1348.7,425.4 L1350.5,424.5 L1352.3,423.5 L1354.1,422.6 L1355.8,421.7 L1357.6,420.7 L1359.4,419.8 L1361.2,418.8 L1362.9,417.8 L1364.7,416.9 L1366.5,415.9 L1368.2,414.9 L1370.0,413.9 L1371.8,412.9 L1373.5,412.0" stroke="#000" stroke-width="4.08" fill="none" stroke-linejoin="round" stroke-linecap="round"/>
<path d="M1373.5,412.0 L1375.3,411.0 L1377.1,410.0 L1378.8,409.0 L1380.6,408.0 L1382.3,407.0 L1384.1,405.9 L1385.9,404.9 L1387.6,403.9 L1389.4,402.9 L1391.1,401.9 L1392.9,400.9 L1394.6,399.8 L1396.4,398.8 L1398.2,397.8 L1399.9,396.8 L1401.7,395.7 L1403.4,394.7 L1405.2,393.7 L1406.9,392.6 L1408.6,391.6 L1410.4,390.6 L1412.1,389.6 L1413.9,388.5 L1415.6,387.5 L1417.4,386.5" stroke="#000" stroke-width="4.01" fill="none" stroke-linejoin="round" stroke-linecap="round"/>
<path d="M1417.4,386.5 L1419.1,385.4 L1420.9,384.4 L1422.6,383.4 L1424.3,382.3 L1426.1,381.3 L1427.8,380.3 L1429.6,379.2 L1431.3,378.2 L1433.1,377.2 L1434.8,376.1 L1436.5,375.1 L1438.3,374.1 L1440.0,373.1 L1441.8,372.0 L1443.5,371.0 L1445.2,370.0 L1447.0,369.0 L1448.7,367.9 L1450.5,366.9 L1452.2,365.9 L1453.9,364.9 L1455.7,363.9 L1457.4,362.8 L1459.1,361.8 L1460.9,360.8" stroke="#000" stroke-width="3.94" fill="none" stroke-linejoin="round" stroke-linecap="round"/>
<path d="M1460.9,360.8 L1462.6,359.8 L1464.4,358.8 L1466.1,357.8 L1467.9,356.8 L1469.6,355.8 L1471.3,354.8 L1473.1,353.8 L1474.8,352.8 L1476.6,351.8 L1478.3,350.8 L1480.1,349.8 L1481.8,348.8 L1483.5,347.8 L1485.3,346.9 L1487.0,345.9 L1488.8,344.9 L1490.5,343.9 L1492.3,343.0 L1494.0,342.0 L1495.8,341.0 L1497.5,340.1 L1499.3,339.1 L1501.0,338.2 L1502.8,337.2 L1504.5,336.3" stroke="#000" stroke-width="3.87" fill="none" stroke-linejoin="round" stroke-linecap="round"/>
<path d="M1504.5,336.3 L1506.3,335.3 L1508.1,334.4 L1509.8,333.5 L1511.6,332.5 L1513.3,331.6 L1515.1,330.7 L1516.9,329.8 L1518.6,328.8 L1520.4,327.9 L1522.2,327.0 L1523.9,326.1 L1525.7,325.2 L1527.5,324.3 L1529.2,323.4 L1531.0,322.6 L1532.8,321.7 L1534.6,320.8 L1536.3,319.9 L1538.1,319.1 L1539.9,318.2 L1541.7,317.4 L1543.5,316.5 L1545.3,315.7 L1547.0,314.8 L1548.8,314.0" stroke="#000" stroke-width="3.80" fill="none" stroke-linejoin="round" stroke-linecap="round"/>
<path d="M1548.8,314.0 L1550.6,313.2 L1552.4,312.3 L1554.2,311.5 L1556.0,310.7 L1557.8,309.9 L1559.6,309.1 L1561.4,308.3 L1563.2,307.5 L1565.0,306.8 L1566.8,306.0 L1568.6,305.2 L1570.5,304.4 L1572.3,303.7 L1574.1,302.9 L1575.9,302.2 L1577.7,301.5 L1579.6,300.7 L1581.4,300.0 L1583.2,299.3 L1585.0,298.6 L1586.9,297.9 L1588.7,297.2 L1590.6,296.5 L1592.4,295.8 L1594.2,295.1" stroke="#000" stroke-width="3.73" fill="none" stroke-linejoin="round" stroke-linecap="round"/>
<path d="M1594.2,295.1 L1596.1,294.4 L1597.9,293.7 L1599.8,293.0 L1601.6,292.4 L1603.5,291.7 L1605.4,291.0 L1607.2,290.4 L1609.1,289.7 L1611.0,289.1 L1612.8,288.4 L1614.7,287.8 L1616.6,287.1 L1618.5,286.5 L1620.3,285.8 L1622.2,285.2 L1624.1,284.6 L1626.0,283.9 L1627.9,283.3 L1629.8,282.7 L1631.7,282.0 L1633.6,281.4 L1635.5,280.8 L1637.4,280.2 L1639.3,279.5 L1641.3,278.9" stroke="#000" stroke-width="3.65" fill="none" stroke-linejoin="round" stroke-linecap="round"/>
<path d="M1641.3,278.9 L1643.2,278.3 L1645.1,277.7 L1647.0,277.0 L1649.0,276.4 L1650.9,275.8 L1652.8,275.2 L1654.8,274.5 L1656.7,273.9 L1658.7,273.3 L1660.6,272.7 L1662.6,272.0 L1664.5,271.4 L1666.5,270.8 L1668.5,270.1 L1670.5,269.5 L1672.4,268.9 L1674.4,268.2 L1675.1,268.0" stroke="#000" stroke-width="3.60" fill="none" stroke-linejoin="round" stroke-linecap="round"/>
<path d="M257.4,884.0 L258.9,882.7 L260.4,881.3 L261.9,880.0 L263.4,878.7 L264.9,877.3 L266.4,876.0 L267.9,874.7 L269.4,873.3 L270.8,872.0 L272.3,870.7 L273.8,869.3 L275.3,868.0 L276.8,866.7 L278.3,865.4 L279.8,864.0 L281.3,862.7 L282.8,861.4 L284.3,860.0 L285.8,858.7 L287.3,857.4 L288.8,856.1 L290.3,854.7 L291.8,853.4 L293.3,852.1 L294.8,850.7" stroke="#ff0000" stroke-width="5.00" fill="none" stroke-linejoin="round" stroke-linecap="round"/>
<path d="M294.8,850.7 L296.3,849.4 L297.8,848.1 L299.3,846.8 L300.8,845.4 L302.3,844.1 L303.8,842.8 L305.3,841.5 L306.8,840.1 L308.3,838.8 L309.8,837.5 L311.3,836.2 L312.8,834.9 L314.3,833.5 L315.8,832.2 L317.3,830.9 L318.8,829.6 L320.3,828.2 L321.8,826.9 L323.3,825.6 L324.9,824.3 L326.4,823.0 L327.9,821.7 L329.4,820.3 L330.9,819.0 L332.4,817.7" stroke="#ff0000" stroke-width="5.00" fill="none" stroke-linejoin="round" stroke-linecap="round"/>
<path d="M332.4,817.7 L333.9,816.4 L335.4,815.1 L336.9,813.7 L338.4,812.4 L339.9,811.1 L341.4,809.8 L342.9,808.5 L344.5,807.2 L346.0,805.9 L347.5,804.6 L349.0,803.2 L350.5,801.9 L352.0,800.6 L353.5,799.3 L355.0,798.0 L356.6,796.7 L358.1,795.4 L359.6,794.1 L361.1,792.8 L362.6,791.5 L364.1,790.2 L365.6,788.8 L367.2,787.5 L368.7,786.2 L370.2,784.9" stroke="#ff0000" stroke-width="5.00" fill="none" stroke-linejoin="round" stroke-linecap="round"/>
<path d="M370.2,784.9 L371.7,783.6 L373.2,782.3 L374.7,781.0 L376.3,779.7 L377.8,778.4 L379.3,777.1 L380.8,775.8 L382.3,774.5 L383.9,773.2 L385.4,771.9 L386.9,770.6 L388.4,769.3 L390.0,768.0 L391.5,766.7 L393.0,765.4 L394.5,764.1 L396.1,762.8 L397.6,761.6 L399.1,760.3 L400.6,759.0 L402.2,757.7 L403.7,756.4 L405.2,755.1 L406.7,753.8 L408.3,752.5" stroke="#ff0000" stroke-width="5.00" fill="none" stroke-linejoin="round" stroke-linecap="round"/>
<path d="M408.3,752.5 L409.8,751.2 L411.3,749.9 L412.9,748.7 L414.4,747.4 L415.9,746.1 L417.5,744.8 L419.0,743.5 L420.5,742.2 L422.1,741.0 L423.6,739.7 L425.1,738.4 L426.7,737.1 L428.2,735.8 L429.7,734.6 L431.3,733.3 L432.8,732.0 L434.4,730.7 L435.9,729.4 L437.4,728.2 L439.0,726.9 L440.5,725.6 L442.0,724.4 L443.6,723.1 L445.1,721.8 L446.7,720.5" stroke="#ff0000" stroke-width="5.00" fill="none" stroke-linejoin="round" stroke-linecap="round"/>
<path d="M446.7,720.5 L448.2,719.3 L449.8,718.0 L451.3,716.7 L452.9,715.5 L454.4,714.2 L455.9,712.9 L457.5,711.7 L459.0,710.4 L460.6,709.2 L462.1,707.9 L463.7,706.6 L465.2,705.4 L466.8,704.1 L468.3,702.9 L469.9,701.6 L471.4,700.3 L473.0,699.1 L474.6,697.8 L476.1,696.6 L477.7,695.3 L479.2,694.1 L480.8,692.8 L482.3,691.6 L483.9,690.3 L485.4,689.1" stroke="#ff0000" stroke-width="5.00" fill="none" stroke-linejoin="round" stroke-linecap="round"/>
<path d="M485.4,689.1 L487.0,687.8 L488.6,686.6 L490.1,685.3 L491.7,684.1 L493.3,682.8 L494.8,681.6 L496.4,680.4 L497.9,679.1 L499.5,677.9 L501.1,676.6 L502.6,675.4 L504.2,674.2 L505.8,672.9 L507.3,671.7 L508.9,670.5 L510.5,669.2 L512.0,668.0 L513.6,666.8 L515.2,665.5 L516.8,664.3 L518.3,663.1 L519.9,661.9 L521.5,660.6 L523.1,659.4 L524.6,658.2" stroke="#ff0000" stroke-width="5.00" fill="none" stroke-linejoin="round" stroke-linecap="round"/>
<path d="M524.6,658.2 L526.2,657.0 L527.8,655.7 L529.4,654.5 L531.0,653.3 L532.5,652.1 L534.1,650.9 L535.7,649.7 L537.3,648.4 L538.9,647.2 L540.4,646.0 L542.0,644.8 L543.6,643.6 L545.2,642.4 L546.8,641.2 L548.4,640.0 L550.0,638.8 L551.6,637.6 L553.1,636.4 L554.7,635.1 L556.3,633.9 L557.9,632.7 L559.5,631.5 L561.1,630.4 L562.7,629.2 L564.3,628.0" stroke="#ff0000" stroke-width="5.00" fill="none" stroke-linejoin="round" stroke-linecap="round"/>
<path d="M564.3,628.0 L565.9,626.8 L567.5,625.6 L569.1,624.4 L570.7,623.2 L572.3,622.0 L573.9,620.8 L575.5,619.6 L577.1,618.4 L578.7,617.3 L580.3,616.1 L581.9,614.9 L583.5,613.7 L585.1,612.5 L586.7,611.3 L588.3,610.2 L589.9,609.0 L591.6,607.8 L593.2,606.6 L594.8,605.5 L596.4,604.3 L598.0,603.1 L599.6,602.0 L601.2,600.8 L602.9,599.6 L604.5,598.5" stroke="#ff0000" stroke-width="5.00" fill="none" stroke-linejoin="round" stroke-linecap="round"/>
<path d="M604.5,598.5 L606.1,597.3 L607.7,596.1 L609.3,595.0 L610.9,593.8 L612.6,592.7 L614.2,591.5 L615.8,590.3 L617.4,589.2 L619.1,588.0 L620.7,586.9 L622.3,585.7 L623.9,584.6 L625.6,583.4 L627.2,582.3 L628.8,581.2 L630.5,580.0 L632.1,578.9 L633.7,577.7 L635.4,576.6 L637.0,575.5 L638.6,574.3 L640.3,573.2 L641.9,572.0 L643.6,570.9 L645.2,569.8" stroke="#ff0000" stroke-width="5.00" fill="none" stroke-linejoin="round" stroke-linecap="round"/>
<path d="M645.2,569.8 L646.8,568.7 L648.5,567.5 L650.1,566.4 L651.8,565.3 L653.4,564.2 L655.1,563.0 L656.7,561.9 L658.4,560.8 L660.0,559.7 L661.7,558.6 L663.3,557.4 L665.0,556.3 L666.6,555.2 L668.3,554.1 L669.9,553.0 L671.6,551.9 L673.3,550.8 L674.9,549.7 L676.6,548.6 L678.2,547.5 L679.9,546.4 L681.6,545.3 L683.2,544.2 L684.9,543.1 L686.6,542.0" stroke="#ff0000" stroke-width="5.00" fill="none" stroke-linejoin="round" stroke-linecap="round"/>
<path d="M686.6,542.0 L688.2,540.9 L689.9,539.8 L691.6,538.7 L693.2,537.6 L694.9,536.5 L696.6,535.5 L698.2,534.4 L699.9,533.3 L701.6,532.2 L703.3,531.1 L705.0,530.1 L706.6,529.0 L708.3,527.9 L710.0,526.8 L711.7,525.8 L713.4,524.7 L715.0,523.6 L716.7,522.6 L718.4,521.5 L720.1,520.4 L721.8,519.4 L723.5,518.3 L725.2,517.3 L726.9,516.2 L728.6,515.1" stroke="#ff0000" stroke-width="5.00" fill="none" stroke-linejoin="round" stroke-linecap="round"/>
<path d="M728.6,515.1 L730.3,514.1 L732.0,513.0 L733.7,512.0 L735.4,510.9 L737.1,509.9 L738.8,508.8 L740.5,507.8 L742.2,506.7 L743.9,505.7 L745.6,504.7 L747.3,503.6 L749.0,502.6 L750.7,501.5 L752.4,500.5 L754.1,499.4 L755.8,498.4 L757.5,497.3 L759.2,496.3 L761.0,495.3 L762.7,494.2 L764.4,493.2 L766.1,492.1 L767.8,491.1 L769.6,490.1 L771.3,489.0" stroke="#ff0000" stroke-width="4.89" fill="none" stroke-linejoin="round" stroke-linecap="round"/>
<path d="M771.3,489.0 L773.0,488.0 L774.7,486.9 L776.5,485.9 L778.2,484.8 L779.9,483.8 L781.6,482.8 L783.4,481.7 L785.1,480.7 L786.8,479.6 L788.6,478.6 L790.3,477.5 L792.1,476.5 L793.8,475.4 L795.5,474.4 L797.3,473.4 L799.0,472.3 L800.8,471.3 L802.5,470.2 L804.3,469.2 L806.0,468.2 L807.8,467.1 L809.5,466.1 L811.3,465.1 L813.0,464.0 L814.8,463.0" stroke="#ff0000" stroke-width="4.42" fill="none" stroke-linejoin="round" stroke-linecap="round"/>
<path d="M814.8,463.0 L816.5,462.0 L818.3,460.9 L820.0,459.9 L821.8,458.9 L823.6,457.8 L825.3,456.8 L827.1,455.8 L828.8,454.8 L830.6,453.8 L832.4,452.8 L834.1,451.7 L835.9,450.7 L837.7,449.7 L839.5,448.7 L841.2,447.7 L843.0,446.7 L844.8,445.7 L846.6,444.7 L848.3,443.7 L850.1,442.7 L851.9,441.8 L853.7,440.8 L855.5,439.8 L857.3,438.8 L859.1,437.9" stroke="#ff0000" stroke-width="3.94" fill="none" stroke-linejoin="round" stroke-linecap="round"/>
<path d="M859.1,437.9 L860.8,436.9 L862.6,435.9 L864.4,435.0 L866.2,434.0 L868.0,433.1 L869.8,432.1 L871.6,431.2 L873.4,430.2 L875.2,429.3 L877.0,428.4 L878.8,427.4 L880.6,426.5 L882.4,425.6 L884.2,424.7 L886.0,423.8 L887.8,422.9 L889.7,422.0 L891.5,421.1 L893.3,420.2 L895.1,419.3 L896.9,418.5 L898.7,417.6 L900.5,416.7 L902.4,415.9 L904.2,415.0" stroke="#ff0000" stroke-width="3.79" fill="none" stroke-linejoin="round" stroke-linecap="round"/>
<path d="M904.2,415.0 L906.0,414.2 L907.8,413.3 L909.7,412.5 L911.5,411.7 L913.3,410.8 L915.2,410.0 L917.0,409.2 L918.8,408.4 L920.7,407.6 L922.5,406.8 L924.3,406.0 L926.2,405.3 L928.0,404.5 L929.9,403.7 L931.7,403.0 L933.6,402.2 L935.4,401.5 L937.3,400.8 L939.1,400.0 L941.0,399.3 L942.8,398.6 L944.7,397.9 L946.5,397.2 L948.4,396.5 L950.2,395.8" stroke="#ff0000" stroke-width="3.78" fill="none" stroke-linejoin="round" stroke-linecap="round"/>
<path d="M950.2,395.8 L952.1,395.2 L954.0,394.5 L955.8,393.8 L957.7,393.2 L959.6,392.6 L961.4,391.9 L963.3,391.3 L965.2,390.7 L967.0,390.1 L968.9,389.5 L970.8,388.9 L972.7,388.3 L974.6,387.8 L976.4,387.2 L978.3,386.6 L980.2,386.1 L982.1,385.6 L984.0,385.0 L985.9,384.5 L987.8,384.0 L989.6,383.5 L991.5,383.0 L993.4,382.5 L995.3,382.0 L997.2,381.5" stroke="#ff0000" stroke-width="3.77" fill="none" stroke-linejoin="round" stroke-linecap="round"/>
<path d="M997.2,381.5 L999.1,381.1 L1001.0,380.6 L1002.9,380.2 L1004.8,379.7 L1006.7,379.3 L1008.6,378.8 L1010.5,378.4 L1012.4,378.0 L1014.4,377.6 L1016.3,377.1 L1018.2,376.7 L1020.1,376.3 L1022.0,375.9 L1023.9,375.6 L1025.8,375.2 L1027.7,374.8 L1029.7,374.4 L1031.6,374.0 L1033.5,373.7 L1035.4,373.3 L1037.3,372.9 L1039.3,372.6 L1041.2,372.2 L1043.1,371.9 L1045.0,371.5" stroke="#ff0000" stroke-width="3.76" fill="none" stroke-linejoin="round" stroke-linecap="round"/>
<path d="M1045.0,371.5 L1047.0,371.2 L1048.9,370.9 L1050.8,370.5 L1052.8,370.2 L1054.7,369.9 L1056.6,369.5 L1058.5,369.2 L1060.5,368.9 L1062.4,368.6 L1064.3,368.2 L1066.3,367.9 L1068.2,367.6 L1070.2,367.3 L1072.1,367.0 L1074.0,366.7 L1076.0,366.4 L1077.9,366.1 L1079.9,365.8 L1081.8,365.5 L1083.7,365.1 L1085.7,364.8 L1087.6,364.5 L1089.6,364.2 L1091.5,363.9 L1093.5,363.6" stroke="#ff0000" stroke-width="3.75" fill="none" stroke-linejoin="round" stroke-linecap="round"/>
<path d="M1093.5,363.6 L1095.4,363.3 L1097.3,363.0 L1099.3,362.7 L1101.2,362.4 L1103.2,362.1 L1105.1,361.8 L1107.1,361.5 L1109.0,361.1 L1111.0,360.8 L1112.9,360.5 L1114.9,360.2 L1116.8,359.9 L1118.8,359.5 L1120.7,359.2 L1122.7,358.9 L1124.6,358.5 L1126.6,358.2 L1128.5,357.8 L1130.5,357.5 L1132.4,357.1 L1134.4,356.8 L1136.4,356.4 L1138.3,356.1 L1140.3,355.7 L1142.2,355.3" stroke="#ff0000" stroke-width="3.73" fill="none" stroke-linejoin="round" stroke-linecap="round"/>
<path d="M1142.2,355.3 L1144.2,355.0 L1146.1,354.6 L1148.1,354.2 L1150.0,353.8 L1152.0,353.4 L1153.9,353.0 L1155.9,352.6 L1157.9,352.2 L1159.8,351.8 L1161.8,351.4 L1163.7,351.0 L1165.7,350.5 L1167.6,350.1 L1169.6,349.7 L1171.5,349.2 L1173.5,348.8 L1175.5,348.3 L1177.4,347.9 L1179.4,347.4 L1181.3,347.0 L1183.3,346.5 L1185.2,346.0 L1187.2,345.6 L1189.1,345.1 L1191.1,344.6" stroke="#ff0000" stroke-width="3.72" fill="none" stroke-linejoin="round" stroke-linecap="round"/>
<path d="M1191.1,344.6 L1193.1,344.1 L1195.0,343.7 L1197.0,343.2 L1198.9,342.7 L1200.9,342.2 L1202.8,341.7 L1204.8,341.2 L1206.7,340.7 L1208.7,340.2 L1210.6,339.6 L1212.6,339.1 L1214.5,338.6 L1216.5,338.1 L1218.4,337.5 L1220.4,337.0 L1222.3,336.5 L1224.3,335.9 L1226.2,335.4 L1228.2,334.9 L1230.1,334.3 L1232.1,333.8 L1234.0,333.2 L1236.0,332.6 L1237.9,332.1 L1239.9,331.5" stroke="#ff0000" stroke-width="3.71" fill="none" stroke-linejoin="round" stroke-linecap="round"/>
<path d="M1239.9,331.5 L1241.8,331.0 L1243.7,330.4 L1245.7,329.8 L1247.6,329.2 L1249.6,328.7 L1251.5,328.1 L1253.5,327.5 L1255.4,326.9 L1257.3,326.3 L1259.3,325.7 L1261.2,325.1 L1263.1,324.5 L1265.1,323.9 L1267.0,323.3 L1269.0,322.7 L1270.9,322.1 L1272.8,321.5 L1274.8,320.9 L1276.7,320.3 L1278.6,319.7 L1280.5,319.1 L1282.5,318.4 L1284.4,317.8 L1286.3,317.2 L1288.3,316.6" stroke="#ff0000" stroke-width="3.74" fill="none" stroke-linejoin="round" stroke-linecap="round"/>
<path d="M1288.3,316.6 L1290.2,315.9 L1292.1,315.3 L1294.0,314.7 L1295.9,314.1 L1297.9,313.4 L1299.8,312.8 L1301.7,312.1 L1303.6,311.5 L1305.5,310.9 L1307.5,310.2 L1309.4,309.6 L1311.3,308.9 L1313.2,308.3 L1315.1,307.6 L1317.0,307.0 L1318.9,306.3 L1320.8,305.6 L1322.7,305.0 L1324.7,304.3 L1326.6,303.7 L1328.5,303.0 L1330.4,302.3 L1332.3,301.7 L1334.2,301.0 L1336.1,300.3" stroke="#ff0000" stroke-width="3.89" fill="none" stroke-linejoin="round" stroke-linecap="round"/>
<path d="M1336.1,300.3 L1338.0,299.7 L1339.9,299.0 L1341.8,298.3 L1343.7,297.6 L1345.6,297.0 L1347.4,296.3 L1349.3,295.6 L1351.2,294.9 L1353.1,294.2 L1355.0,293.6 L1356.9,292.9 L1358.8,292.2 L1360.7,291.5 L1362.6,290.8 L1364.5,290.1 L1366.3,289.4 L1368.2,288.7 L1370.1,288.0 L1372.0,287.3 L1373.9,286.6 L1375.8,285.9 L1377.6,285.2 L1379.5,284.5 L1381.4,283.8 L1383.3,283.1" stroke="#ff0000" stroke-width="4.00" fill="none" stroke-linejoin="round" stroke-linecap="round"/>
<path d="M1383.3,283.1 L1385.2,282.4 L1387.0,281.7 L1388.9,281.0 L1390.8,280.3 L1392.7,279.6 L1394.5,278.9 L1396.4,278.2 L1398.3,277.5 L1400.1,276.8 L1402.0,276.0 L1403.9,275.3 L1405.8,274.6 L1407.6,273.9 L1409.5,273.2 L1411.4,272.5 L1413.2,271.7 L1415.1,271.0 L1417.0,270.3 L1418.8,269.6 L1420.7,268.9 L1422.6,268.1 L1424.4,267.4 L1426.3,266.7 L1428.1,265.9 L1430.0,265.2" stroke="#ff0000" stroke-width="4.00" fill="none" stroke-linejoin="round" stroke-linecap="round"/>
<path d="M1430.0,265.2 L1431.9,264.5 L1433.7,263.8 L1435.6,263.0 L1437.4,262.3 L1439.3,261.6 L1441.2,260.8 L1443.0,260.1 L1444.9,259.4 L1446.7,258.6 L1448.6,257.9 L1450.5,257.2 L1452.3,256.4 L1454.2,255.7 L1456.0,255.0 L1457.9,254.2 L1459.7,253.5 L1461.6,252.7 L1463.4,252.0 L1465.3,251.3 L1467.1,250.5 L1469.0,249.8 L1470.9,249.0 L1472.7,248.3 L1474.6,247.5 L1476.4,246.8" stroke="#ff0000" stroke-width="4.00" fill="none" stroke-linejoin="round" stroke-linecap="round"/>
<path d="M1476.4,246.8 L1478.3,246.1 L1480.1,245.3 L1482.0,244.6 L1483.8,243.8 L1485.7,243.1 L1487.5,242.3 L1489.4,241.6 L1491.2,240.8 L1493.1,240.1 L1494.9,239.3 L1496.8,238.6 L1498.6,237.8 L1500.4,237.1 L1502.3,236.3 L1504.1,235.6 L1506.0,234.8 L1507.8,234.1 L1509.7,233.3 L1511.5,232.6 L1513.4,231.8 L1515.2,231.1 L1517.1,230.3 L1518.9,229.6 L1520.8,228.8 L1522.6,228.1" stroke="#ff0000" stroke-width="4.00" fill="none" stroke-linejoin="round" stroke-linecap="round"/>
<path d="M1522.6,228.1 L1524.5,227.3 L1526.3,226.6 L1528.2,225.8 L1530.0,225.1 L1531.8,224.3 L1533.7,223.6 L1535.5,222.8 L1537.4,222.1 L1539.2,221.3 L1541.1,220.6 L1542.9,219.8 L1544.8,219.1 L1546.6,218.3 L1548.5,217.6 L1550.3,216.8 L1552.1,216.1 L1554.0,215.3 L1555.8,214.6 L1557.7,213.8 L1559.5,213.1 L1561.4,212.3 L1563.2,211.6 L1565.1,210.8 L1566.9,210.1 L1568.8,209.3" stroke="#ff0000" stroke-width="4.00" fill="none" stroke-linejoin="round" stroke-linecap="round"/>
<path d="M1568.8,209.3 L1570.6,208.6 L1572.5,207.8 L1574.3,207.1 L1576.2,206.3 L1578.0,205.6 L1579.8,204.8 L1581.7,204.1 L1583.5,203.3 L1585.4,202.6 L1587.2,201.8 L1589.1,201.1 L1590.9,200.3 L1592.8,199.6 L1594.6,198.8 L1596.5,198.1 L1598.3,197.3 L1600.2,196.6 L1602.0,195.9 L1603.9,195.1 L1605.7,194.4 L1607.6,193.6 L1609.4,192.9 L1611.3,192.1 L1613.2,191.4 L1615.0,190.7" stroke="#ff0000" stroke-width="4.00" fill="none" stroke-linejoin="round" stroke-linecap="round"/>
<path d="M1615.0,190.7 L1616.9,189.9 L1618.7,189.2 L1620.6,188.4 L1622.4,187.7 L1624.3,187.0 L1626.1,186.2 L1628.0,185.5 L1629.8,184.8 L1631.7,184.0 L1633.6,183.3 L1635.4,182.6 L1637.3,181.8 L1639.1,181.1 L1641.0,180.4 L1642.8,179.6 L1644.7,178.9 L1646.6,178.2 L1648.4,177.4 L1650.3,176.7 L1652.1,176.0 L1654.0,175.3 L1655.9,174.5 L1657.7,173.8 L1659.6,173.1 L1661.5,172.4" stroke="#ff0000" stroke-width="4.00" fill="none" stroke-linejoin="round" stroke-linecap="round"/>
<path d="M1661.5,172.4 L1663.3,171.7 L1665.2,170.9 L1667.1,170.2 L1668.9,169.5 L1670.8,168.8 L1672.7,168.1 L1674.5,167.4 L1676.4,166.6" stroke="#ff0000" stroke-width="4.00" fill="none" stroke-linejoin="round" stroke-linecap="round"/>
</g>
<rect x="177.6" y="17" width="3.4" height="867.5" fill="#b2b2b2"/>
<rect x="180.6" y="881.6" width="2095.9" height="3.4" fill="#66635d"/>
<line x1="258.5" y1="884" x2="258.5" y2="896" stroke="#585858" stroke-width="3"/>
<line x1="306.3" y1="884" x2="306.3" y2="896" stroke="#585858" stroke-width="3"/>
<line x1="340.3" y1="884" x2="340.3" y2="896" stroke="#585858" stroke-width="3"/>
<line x1="366.6" y1="884" x2="366.6" y2="896" stroke="#585858" stroke-width="3"/>
<line x1="388.2" y1="884" x2="388.2" y2="896" stroke="#585858" stroke-width="3"/>
<line x1="406.4" y1="884" x2="406.4" y2="896" stroke="#585858" stroke-width="3"/>
<line x1="422.1" y1="884" x2="422.1" y2="896" stroke="#585858" stroke-width="3"/>
<line x1="436.0" y1="884" x2="436.0" y2="896" stroke="#585858" stroke-width="3"/>
<line x1="448.5" y1="884" x2="448.5" y2="908.5" stroke="#767676" stroke-width="3.8"/>
<line x1="530.3" y1="884" x2="530.3" y2="896" stroke="#585858" stroke-width="3"/>
<line x1="578.1" y1="884" x2="578.1" y2="896" stroke="#585858" stroke-width="3"/>
<line x1="612.1" y1="884" x2="612.1" y2="896" stroke="#585858" stroke-width="3"/>
<line x1="638.4" y1="884" x2="638.4" y2="896" stroke="#585858" stroke-width="3"/>
<line x1="660.0" y1="884" x2="660.0" y2="896" stroke="#585858" stroke-width="3"/>
<line x1="678.2" y1="884" x2="678.2" y2="896" stroke="#585858" stroke-width="3"/>
<line x1="693.9" y1="884" x2="693.9" y2="896" stroke="#585858" stroke-width="3"/>
<line x1="707.8" y1="884" x2="707.8" y2="896" stroke="#585858" stroke-width="3"/>
<line x1="720.3" y1="884" x2="720.3" y2="908.5" stroke="#767676" stroke-width="3.8"/>
<line x1="802.1" y1="884" x2="802.1" y2="896" stroke="#585858" stroke-width="3"/>
<line x1="849.9" y1="884" x2="849.9" y2="896" stroke="#585858" stroke-width="3"/>
<line x1="883.9" y1="884" x2="883.9" y2="896" stroke="#585858" stroke-width="3"/>
<line x1="910.2" y1="884" x2="910.2" y2="896" stroke="#585858" stroke-width="3"/>
<line x1="931.8" y1="884" x2="931.8" y2="896" stroke="#585858" stroke-width="3"/>
<line x1="950.0" y1="884" x2="950.0" y2="896" stroke="#585858" stroke-width="3"/>
<line x1="965.7" y1="884" x2="965.7" y2="896" stroke="#585858" stroke-width="3"/>
<line x1="979.6" y1="884" x2="979.6" y2="896" stroke="#585858" stroke-width="3"/>
<line x1="992.1" y1="884" x2="992.1" y2="908.5" stroke="#767676" stroke-width="3.8"/>
<line x1="1073.9" y1="884" x2="1073.9" y2="896" stroke="#585858" stroke-width="3"/>
<line x1="1121.7" y1="884" x2="1121.7" y2="896" stroke="#585858" stroke-width="3"/>
<line x1="1155.7" y1="884" x2="1155.7" y2="896" stroke="#585858" stroke-width="3"/>
<line x1="1182.0" y1="884" x2="1182.0" y2="896" stroke="#585858" stroke-width="3"/>
<line x1="1203.6" y1="884" x2="1203.6" y2="896" stroke="#585858" stroke-width="3"/>
<line x1="1221.8" y1="884" x2="1221.8" y2="896" stroke="#585858" stroke-width="3"/>
<line x1="1237.5" y1="884" x2="1237.5" y2="896" stroke="#585858" stroke-width="3"/>
<line x1="1251.4" y1="884" x2="1251.4" y2="896" stroke="#585858" stroke-width="3"/>
<line x1="1263.9" y1="884" x2="1263.9" y2="908.5" stroke="#767676" stroke-width="3.8"/>
<line x1="1345.7" y1="884" x2="1345.7" y2="896" stroke="#585858" stroke-width="3"/>
<line x1="1393.5" y1="884" x2="1393.5" y2="896" stroke="#585858" stroke-width="3"/>
<line x1="1427.5" y1="884" x2="1427.5" y2="896" stroke="#585858" stroke-width="3"/>
<line x1="1453.8" y1="884" x2="1453.8" y2="896" stroke="#585858" stroke-width="3"/>
<line x1="1475.4" y1="884" x2="1475.4" y2="896" stroke="#585858" stroke-width="3"/>
<line x1="1493.6" y1="884" x2="1493.6" y2="896" stroke="#585858" stroke-width="3"/>
<line x1="1509.3" y1="884" x2="1509.3" y2="896" stroke="#585858" stroke-width="3"/>
<line x1="1523.2" y1="884" x2="1523.2" y2="896" stroke="#585858" stroke-width="3"/>
<line x1="1535.7" y1="884" x2="1535.7" y2="908.5" stroke="#767676" stroke-width="3.8"/>
<line x1="1617.5" y1="884" x2="1617.5" y2="896" stroke="#585858" stroke-width="3"/>
<line x1="1665.3" y1="884" x2="1665.3" y2="896" stroke="#585858" stroke-width="3"/>
<line x1="1699.3" y1="884" x2="1699.3" y2="896" stroke="#585858" stroke-width="3"/>
<line x1="1725.6" y1="884" x2="1725.6" y2="896" stroke="#585858" stroke-width="3"/>
<line x1="1747.2" y1="884" x2="1747.2" y2="896" stroke="#585858" stroke-width="3"/>
<line x1="1765.4" y1="884" x2="1765.4" y2="896" stroke="#585858" stroke-width="3"/>
<line x1="1781.1" y1="884" x2="1781.1" y2="896" stroke="#585858" stroke-width="3"/>
<line x1="1795.0" y1="884" x2="1795.0" y2="896" stroke="#585858" stroke-width="3"/>
<line x1="1807.5" y1="884" x2="1807.5" y2="908.5" stroke="#767676" stroke-width="3.8"/>
<line x1="1889.3" y1="884" x2="1889.3" y2="896" stroke="#585858" stroke-width="3"/>
<line x1="1937.1" y1="884" x2="1937.1" y2="896" stroke="#585858" stroke-width="3"/>
<line x1="1971.1" y1="884" x2="1971.1" y2="896" stroke="#585858" stroke-width="3"/>
<line x1="1997.4" y1="884" x2="1997.4" y2="896" stroke="#585858" stroke-width="3"/>
<line x1="2019.0" y1="884" x2="2019.0" y2="896" stroke="#585858" stroke-width="3"/>
<line x1="2037.2" y1="884" x2="2037.2" y2="896" stroke="#585858" stroke-width="3"/>
<line x1="2052.9" y1="884" x2="2052.9" y2="896" stroke="#585858" stroke-width="3"/>
<line x1="2066.8" y1="884" x2="2066.8" y2="896" stroke="#585858" stroke-width="3"/>
<line x1="2079.3" y1="884" x2="2079.3" y2="908.5" stroke="#767676" stroke-width="3.8"/>
<line x1="2161.1" y1="884" x2="2161.1" y2="896" stroke="#585858" stroke-width="3"/>
<line x1="2208.9" y1="884" x2="2208.9" y2="896" stroke="#585858" stroke-width="3"/>
<line x1="2242.9" y1="884" x2="2242.9" y2="896" stroke="#585858" stroke-width="3"/>
<line x1="2269.2" y1="884" x2="2269.2" y2="896" stroke="#585858" stroke-width="3"/>
<line x1="154.6" y1="876.7" x2="180" y2="876.7" stroke="#727272" stroke-width="3.8"/>
<line x1="167.6" y1="795.4" x2="180" y2="795.4" stroke="#585858" stroke-width="3"/>
<line x1="167.6" y1="747.9" x2="180" y2="747.9" stroke="#585858" stroke-width="3"/>
<line x1="167.6" y1="714.2" x2="180" y2="714.2" stroke="#585858" stroke-width="3"/>
<line x1="167.6" y1="688.0" x2="180" y2="688.0" stroke="#585858" stroke-width="3"/>
<line x1="167.6" y1="666.6" x2="180" y2="666.6" stroke="#585858" stroke-width="3"/>
<line x1="167.6" y1="648.5" x2="180" y2="648.5" stroke="#585858" stroke-width="3"/>
<line x1="167.6" y1="632.9" x2="180" y2="632.9" stroke="#585858" stroke-width="3"/>
<line x1="167.6" y1="619.1" x2="180" y2="619.1" stroke="#585858" stroke-width="3"/>
<line x1="154.6" y1="606.7" x2="180" y2="606.7" stroke="#727272" stroke-width="3.8"/>
<line x1="167.6" y1="525.5" x2="180" y2="525.5" stroke="#585858" stroke-width="3"/>
<line x1="167.6" y1="477.9" x2="180" y2="477.9" stroke="#585858" stroke-width="3"/>
<line x1="167.6" y1="444.2" x2="180" y2="444.2" stroke="#585858" stroke-width="3"/>
<line x1="167.6" y1="418.0" x2="180" y2="418.0" stroke="#585858" stroke-width="3"/>
<line x1="167.6" y1="396.7" x2="180" y2="396.7" stroke="#585858" stroke-width="3"/>
<line x1="167.6" y1="378.6" x2="180" y2="378.6" stroke="#585858" stroke-width="3"/>
<line x1="167.6" y1="362.9" x2="180" y2="362.9" stroke="#585858" stroke-width="3"/>
<line x1="167.6" y1="349.1" x2="180" y2="349.1" stroke="#585858" stroke-width="3"/>
<line x1="154.6" y1="336.8" x2="180" y2="336.8" stroke="#727272" stroke-width="3.8"/>
<line x1="167.6" y1="255.5" x2="180" y2="255.5" stroke="#585858" stroke-width="3"/>
<line x1="167.6" y1="208.0" x2="180" y2="208.0" stroke="#585858" stroke-width="3"/>
<line x1="167.6" y1="174.2" x2="180" y2="174.2" stroke="#585858" stroke-width="3"/>
<line x1="167.6" y1="148.1" x2="180" y2="148.1" stroke="#585858" stroke-width="3"/>
<line x1="167.6" y1="126.7" x2="180" y2="126.7" stroke="#585858" stroke-width="3"/>
<line x1="167.6" y1="108.6" x2="180" y2="108.6" stroke="#585858" stroke-width="3"/>
<line x1="167.6" y1="93.0" x2="180" y2="93.0" stroke="#585858" stroke-width="3"/>
<line x1="167.6" y1="79.1" x2="180" y2="79.1" stroke="#585858" stroke-width="3"/>
<line x1="154.6" y1="66.8" x2="180" y2="66.8" stroke="#727272" stroke-width="3.8"/>
</g>
<g>
<g font-family="Liberation Sans, sans-serif" font-size="31" fill="#4a4a4a" stroke="#4a4a4a" stroke-width="0.4" letter-spacing="-1.05">
<text x="444.0" y="941" text-anchor="middle">0<tspan dx="-2.4">.</tspan><tspan dx="-2.4">0</tspan>1</text>
<text x="717.2" y="941" text-anchor="middle">0<tspan dx="-2.3">.</tspan><tspan dx="-2.3">1</tspan></text>
<text x="993.1" y="941" text-anchor="middle">1</text>
<text x="1262.0" y="941" text-anchor="middle">10</text>
<text x="1535.0" y="941" text-anchor="middle">100</text>
<text x="1806.8" y="941" text-anchor="middle">1000</text>
<text x="2078.6" y="941" text-anchor="middle">10000</text>
<text x="147.2" y="96.4" text-anchor="end">1000</text>
<text x="147.2" y="347.2" text-anchor="end">100</text>
<text x="147.2" y="617.2" text-anchor="end">10</text>
<text x="147.2" y="866.2" text-anchor="end">1</text>
</g>
<g font-family="Liberation Sans, sans-serif" fill="#444" stroke="#444" stroke-width="0.55">
<text font-size="33" x="1160" y="985" textLength="68.5" lengthAdjust="spacingAndGlyphs">Time</text>
<text font-size="33" x="1234.4" y="985">[</text>
<text font-size="35" fill="#151515" stroke="#151515" x="1252" y="988.2">h</text>
<text font-size="33" x="1276.3" y="985">]</text>
<text font-size="30" transform="translate(45.7,610.3) rotate(-90)" textLength="308" lengthAdjust="spacingAndGlyphs">Pressure difference [psi]</text>
</g>
</g>
<g>
<rect x="1405" y="668.4" width="867" height="213" fill="none" stroke="#000" stroke-width="4"/>
<line x1="1405" y1="774.8" x2="2271" y2="774.8" stroke="#444" stroke-width="2.3"/>
<ellipse cx="1471.6" cy="712" rx="14" ry="15.5" fill="none" stroke="#ff1a1a" stroke-width="3.4"/>
<g transform="translate(1479,827.3) rotate(45)" fill="#548235"><rect x="-19.5" y="-7.2" width="39" height="14.4"/><rect x="-7.2" y="-19.5" width="14.4" height="39"/></g>
<line x1="1781.5" y1="712.4" x2="1855" y2="712.4" stroke="#3a3a3a" stroke-width="2.4"/>
<line x1="1781.5" y1="822.6" x2="1855" y2="822.6" stroke="#ff3b3b" stroke-width="2.6"/>
<g font-family="Liberation Sans, sans-serif" font-size="43" fill="#000">
<text x="1546.7" y="727.2" textLength="170.5" lengthAdjust="spacingAndGlyphs">Pressure</text>
<text x="1556.7" y="812.5" textLength="170.5" lengthAdjust="spacingAndGlyphs">Pressure</text>
<text x="1556.5" y="871" textLength="200" lengthAdjust="spacingAndGlyphs">derivative</text>
<text x="1889.2" y="699.0" textLength="170.5" lengthAdjust="spacingAndGlyphs">Pressure</text>
<text x="1890.5" y="757.5" textLength="240" lengthAdjust="spacingAndGlyphs">fitting curve</text>
<text x="1889.2" y="815.8" textLength="170.5" lengthAdjust="spacingAndGlyphs">Pressure</text>
<text x="2074" y="815.8" textLength="200" lengthAdjust="spacingAndGlyphs">derivative</text>
<text x="1890.5" y="874.6" textLength="240" lengthAdjust="spacingAndGlyphs">fitting curve</text>
</g>
</g>
</svg>
</body></html>
